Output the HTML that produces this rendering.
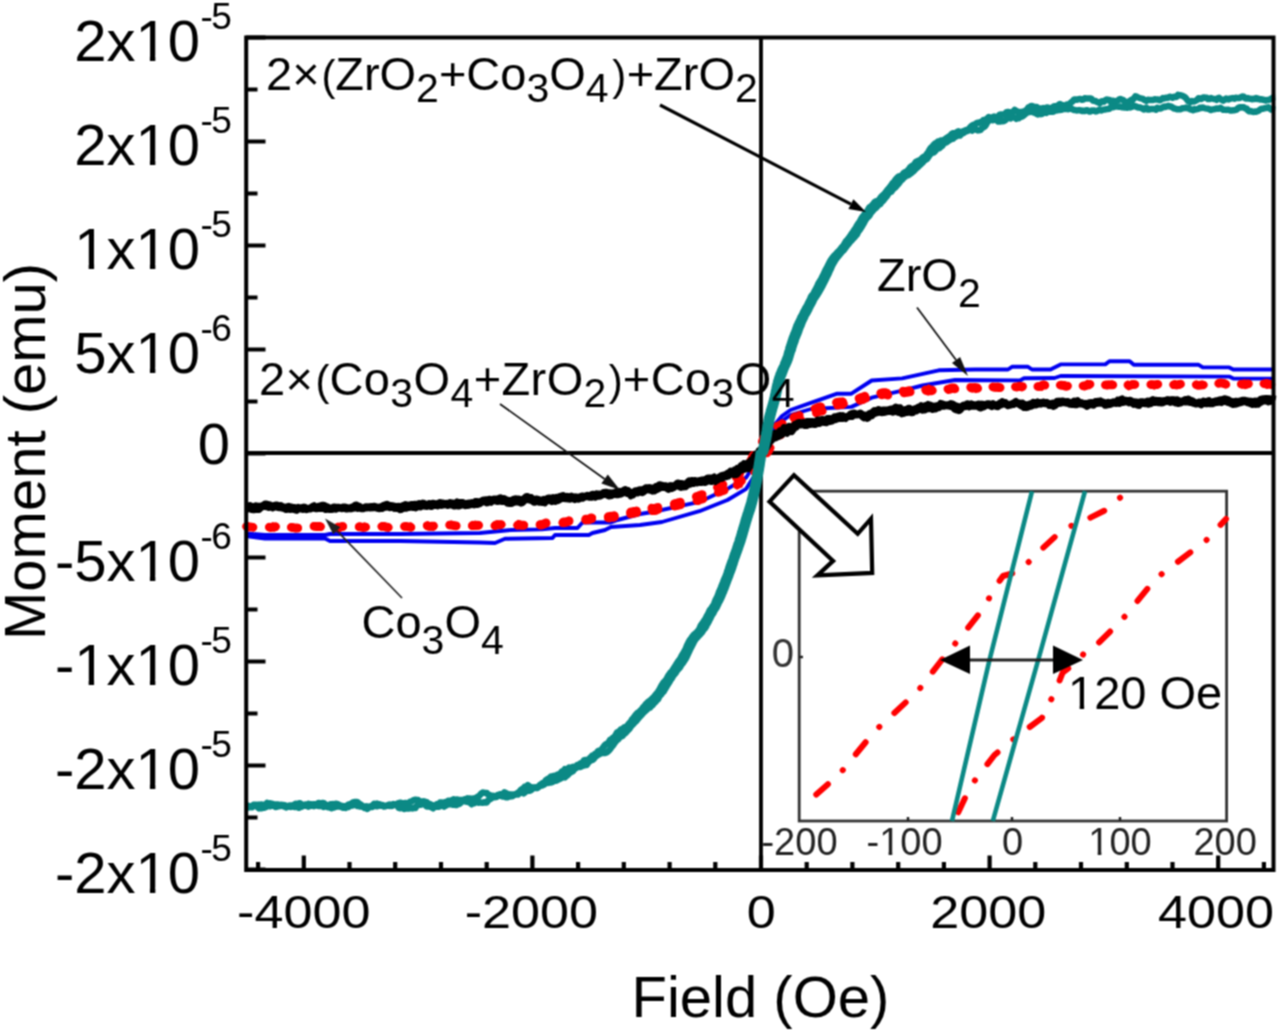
<!DOCTYPE html><html><head><meta charset="utf-8"><style>html,body{margin:0;padding:0;background:#fff;}svg{display:block;}text{font-family:"Liberation Sans",sans-serif;fill:#000;}</style></head><body>
<div id="wrap"><svg width="1280" height="1031" viewBox="0 0 1280 1031"><defs><filter id="bl" x="0" y="0" width="1280" height="1031" filterUnits="userSpaceOnUse" color-interpolation-filters="sRGB"><feConvolveMatrix order="3" kernelMatrix="1 2 1 2 4 2 1 2 1" divisor="16" edgeMode="duplicate"/></filter></defs><g filter="url(#bl)">
<rect width="1280" height="1031" fill="#fff"/>
<line x1="246" y1="453.0" x2="1274" y2="453.0" stroke="#000" stroke-width="3.8"/>
<line x1="761.0" y1="37" x2="761.0" y2="870" stroke="#000" stroke-width="3.8"/>
<path d="M246,37.5 H265.5 M246,89.5 H257.5 M246,141.5 H265.5 M246,193.5 H257.5 M246,245.5 H265.5 M246,297.5 H257.5 M246,349.5 H265.5 M246,401.5 H257.5 M246,453.5 H265.5 M246,505.5 H257.5 M246,557.5 H265.5 M246,609.5 H257.5 M246,661.5 H265.5 M246,713.5 H257.5 M246,765.5 H265.5 M246,817.5 H257.5 M246,869.5 H265.5 M258.1,870 V862 M303.8,870 V855.5 M349.5,870 V862 M395.2,870 V862 M441.0,870 V862 M486.7,870 V862 M532.4,870 V855.5 M578.1,870 V862 M623.8,870 V862 M669.6,870 V862 M715.3,870 V862 M761.0,870 V855.5 M806.7,870 V862 M852.4,870 V862 M898.2,870 V862 M943.9,870 V862 M989.6,870 V855.5 M1035.3,870 V862 M1081.0,870 V862 M1126.8,870 V862 M1172.5,870 V862 M1218.2,870 V855.5 M1263.9,870 V862" stroke="#000" stroke-width="4.2" fill="none"/>
<path d="M246,533.5 L265,535 L325,535 L330,534 L400,534 L440,533.5 L480,533 L511,530 L542,529.4 L555,528 L577.5,528 L582.5,522.5 L611,522.5 L617.5,520 L640,514 L652.5,512 L699.4,501.9 L727.5,488.8 L746.2,477.5 L756,462 L762,449 L768,436 L774.2,425.2 L782,416 L790.5,410 L810.8,402.8 L837.2,393.7 L851.4,393.7 L871.7,380.5 L902.2,378.4 L938.8,370.3 L975,369.5 L1008,369.5 L1012,366.8 L1028,366.8 L1032,369.5 L1050.5,369.5 L1060.6,364.4 L1105.3,364.4 L1109.4,361.3 L1129.7,361.3 L1133.8,364.8 L1198.7,364.8 L1202.8,367.4 L1229.2,367.4 L1233.3,369.5 L1274,369.5" stroke="#0000f0" stroke-width="3.9" fill="none" stroke-linejoin="round"/>
<path d="M246,536 L265,538.5 L325,538.5 L330,541 L400,541 L480,542.5 L495,543 L505,538.8 L552.5,538 L555,535 L588.8,535 L592.5,533 L605,530 L611,527 L640,525 L661.9,522 L699.4,511.2 L727.5,500 L746.2,488.8 L758,470 L766,450 L774.2,429.2 L782,421 L790.5,415 L810.8,409 L851.4,406.9 L871.7,397.7 L902.2,390.6 L922.5,385.5 L955,380 L1020,380.4 L1024,378.3 L1054.5,378 L1060.6,376 L1229.2,376.6 L1233.3,378.6 L1274,378.6" stroke="#0000f0" stroke-width="3.9" fill="none" stroke-linejoin="round"/>
<path d="M246.6,526.4 L247.8,526.5 L248.9,527 L250.1,527.1 L251.2,527 L252.4,527.1 L253.5,527.4 L254.7,527.5 L255.8,527.6 L256.9,527.2 L258.1,527.2 L259.2,527.1 L260.4,527.3 L261.5,527.3 L262.7,528 L263.8,528 L264.9,527.8 L266.1,527.4 L267.2,527.4 L268.4,526.8 L269.5,527.1 L270.7,527.5 L271.8,527.2 L272.9,526.8 L274.1,527.2 L275.2,526.9 L276.4,526 L277.5,526.5 L278.7,526.8 L279.8,526.6 L280.9,527.2 L282.1,527.8 L283.2,527.5 L284.4,527.4 L285.5,527.3 L286.7,526.6 L287.8,526.7 L288.9,526.7 L290.1,526.6 L291.2,527.2 L292.4,527.6 L293.5,527.7 L294.7,527.9 L295.8,528.1 L296.9,528.1 L298.1,527.9 L299.2,528.1 L300.4,527.8 L301.5,527.6 L302.7,527 L303.8,526.9 L304.9,526.6 L306.1,527.1 L307.2,527 L308.4,527.3 L309.5,527.3 L310.7,527 L311.8,526.4 L312.9,526.6 L314.1,526.2 L315.2,526.3 L316.4,526.5 L317.5,526.6 L318.7,526.3 L319.8,526.4 L320.9,526.8 L322.1,526.5 L323.2,527 L324.4,527.4 L325.5,527.6 L326.7,526.9 L327.8,527.4 L328.9,527.5 L330.1,527.1 L331.2,527.1 L332.4,527.6 L333.5,527.5 L334.7,527.5 L335.8,527.6 L336.9,527.8 L338.1,527.2 L339.2,527.6 L340.4,527 L341.5,526.6 L342.7,526.5 L343.8,526.7 L344.9,526.7 L346.1,526.8 L347.2,527.3 L348.4,527.4 L349.5,527.8 L350.7,527.3 L351.8,527.7 L352.9,527.8 L354.1,527.6 L355.2,527.2 L356.4,527.2 L357.5,526.8 L358.7,526.9 L359.8,526.7 L360.9,526.9 L362.1,527.1 L363.2,527.3 L364.4,526.9 L365.5,527.1 L366.7,526.9 L367.8,526.9 L369,527 L370.1,527.4 L371.2,527.3 L372.4,527.2 L373.5,526.7 L374.7,526.8 L375.8,526.6 L377,526.6 L378.1,526.8 L379.2,527.3 L380.4,526.5 L381.5,526.5 L382.7,526.2 L383.8,526.2 L385,526.6 L386.1,527.1 L387.2,527.1 L388.4,527.4 L389.5,527.2 L390.7,526.8 L391.8,527.2 L393,527 L394.1,527.4 L395.2,527.1 L396.4,527 L397.5,526.9 L398.7,527.3 L399.8,526.7 L401,526.8 L402.1,526.6 L403.2,526.3 L404.4,526.4 L405.5,526.3 L406.7,526.5 L407.8,526.8 L409,526.9 L410.1,526.7 L411.2,527.4 L412.4,527.3 L413.5,527.4 L414.7,527.4 L415.8,527.7 L417,526.9 L418.1,527 L419.2,526.8 L420.4,526.5 L421.5,525.9 L422.7,525.9 L423.8,525.5 L425,525.4 L426.1,525.5 L427.2,525.4 L428.4,526.1 L429.5,526.3 L430.7,526.3 L431.8,526 L433,526.2 L434.1,525.6 L435.2,525.4 L436.4,525.4 L437.5,525.5 L438.7,525.3 L439.8,525.5 L441,525.4 L442.1,525.4 L443.2,525.9 L444.4,526.3 L445.5,526.3 L446.7,526.1 L447.8,525.7 L449,524.9 L450.1,524.9 L451.2,524.8 L452.4,525.1 L453.5,525.3 L454.7,525.7 L455.8,525.8 L457,525.8 L458.1,525.7 L459.2,525.6 L460.4,525.8 L461.5,525.2 L462.7,525.1 L463.8,524.8 L465,524.7 L466.1,524.6 L467.2,525.4 L468.4,525.4 L469.5,525.9 L470.7,526.3 L471.8,525.9 L473,525.2 L474.1,525.4 L475.2,525 L476.4,525.3 L477.5,525.1 L478.7,525.3 L479.8,525.4 L481,525.4 L482.1,525 L483.3,525.6 L484.4,525.5 L485.5,525.5 L486.7,525.8 L487.8,525.2 L489,525.4 L490.1,525.8 L491.3,525.9 L492.4,526 L493.5,526.1 L494.7,525.7 L495.8,525 L497,524.6 L498.1,524.6 L499.3,524.7 L500.4,524.6 L501.5,524.4 L502.7,524.4 L503.8,524.2 L505,524.2 L506.1,524 L507.3,524.9 L508.4,524.6 L509.5,524.3 L510.7,524.3 L511.8,524.7 L513,524.7 L514.1,525 L515.3,525.1 L516.4,525.1 L517.5,525.1 L518.7,524.3 L519.8,524.6 L521,525 L522.1,525.1 L523.3,525 L524.4,525.3 L525.5,525.3 L526.7,524.7 L527.8,524.9 L529,524.6 L530.1,524.2 L531.3,523.8 L532.4,524 L533.5,523.4 L534.7,523.1 L535.8,523 L537,523.2 L538.1,523.7 L539.3,524 L540.4,524.5 L541.5,524.6 L542.7,524.2 L543.8,523.7 L545,523.2 L546.1,522.7 L547.3,522.7 L548.4,522.6 L549.5,522.2 L550.7,522.5 L551.8,522.6 L553,522.7 L554.1,522.7 L555.3,522.8 L556.4,522.6 L557.5,522.5 L558.7,522 L559.8,521.8 L561,522 L562.1,522 L563.3,522.2 L564.4,521.8 L565.5,521.7 L566.7,521.3 L567.8,521.1 L569,520.6 L570.1,520.8 L571.3,520.9 L572.4,520.9 L573.5,520.5 L574.7,520.8 L575.8,521 L577,520.6 L578.1,520.6 L579.3,520.6 L580.4,520.4 L581.5,520 L582.7,519.8 L583.8,519.4 L585,519.3 L586.1,518.9 L587.3,518.9 L588.4,518.9 L589.5,518.7 L590.7,517.9 L591.8,517.8 L593,517.1 L594.1,517 L595.3,517.3 L596.4,518 L597.6,517.7 L598.7,518 L599.8,517.7 L601,517.2 L602.1,516.8 L603.3,516.5 L604.4,516.7 L605.6,516.5 L606.7,516.7 L607.8,516.6 L609,516.7 L610.1,516.2 L611.3,516.1 L612.4,515.9 L613.6,515.8 L614.7,515.5 L615.8,515.1 L617,515.2 L618.1,514.8 L619.3,514.4 L620.4,514.7 L621.6,515 L622.7,514.5 L623.8,514.3 L625,514.7 L626.1,514.2 L627.3,513.9 L628.4,513.5 L629.6,513.1 L630.7,512 L631.8,511.8 L633,511.5 L634.1,511.3 L635.3,511.1 L636.4,510.9 L637.6,510.5 L638.7,509.8 L639.8,509.8 L641,510.1 L642.1,510.8 L643.3,510.9 L644.4,510.8 L645.6,510.2 L646.7,508.9 L647.8,507.9 L649,507.4 L650.1,507.5 L651.3,507.7 L652.4,508.3 L653.6,508.3 L654.7,508.3 L655.8,508.1 L657,507.5 L658.1,507.1 L659.3,506.5 L660.4,506.5 L661.6,506.2 L662.7,506.4 L663.8,506 L665,506.1 L666.1,505.5 L667.3,505 L668.4,504.5 L669.6,504.7 L670.7,504.3 L671.8,504.3 L673,504.1 L674.1,503.8 L675.3,503.4 L676.4,503.1 L677.6,502.8 L678.7,502.4 L679.8,502.2 L681,501.8 L682.1,501.3 L683.3,501 L684.4,500.5 L685.6,500.2 L686.7,500 L687.8,499.6 L689,498.8 L690.1,498.5 L691.3,497.8 L692.4,497 L693.6,497.1 L694.7,496.9 L695.8,496.7 L697,496.3 L698.1,496.2 L699.3,495.4 L700.4,495 L701.6,494.6 L702.7,494.3 L703.9,493.6 L705,493.1 L706.1,492.6 L707.3,492.1 L708.4,491.5 L709.6,490.9 L710.7,490.7 L711.9,490.7 L713,490 L714.1,489.6 L715.3,489.3 L716.4,488.1 L717.6,487 L718.7,486.3 L719.9,486 L721,485.3 L722.1,485.1 L723.3,484.5 L724.4,484.1 L725.6,483.1 L726.7,482.6 L727.2,482.2 L727.6,482 L727.9,482 L728.1,482.5 L728.5,482.4 L729,482.5 L729.5,482.6 L729.9,482.4 L730.1,482.2 L730.4,482.1 L730.8,481.8 L731.3,481.3 L731.7,480.8 L732.2,480.2 L732.4,479.8 L732.7,479.5 L733.1,478.6 L733.6,478.1 L734,477.3 L734.5,476.9 L734.7,476.9 L734.9,476.8 L735.4,476.8 L735.9,477.1 L736.3,476.7 L736.8,476.7 L737,477.3 L737.2,476.7 L737.7,476.3 L738.1,476 L738.6,475.3 L739.1,474.7 L739.3,474.6 L739.5,474 L740,473.2 L740.4,472.5 L740.9,471.8 L741.3,471.2 L741.6,470.9 L741.8,471 L742.3,470.6 L742.7,470.3 L743.2,469.7 L743.6,469.2 L743.9,468.7 L744.1,468.5 L744.5,467.7 L745,467.8 L745.5,467.4 L745.9,466.9 L746.1,466.6 L746.4,466.6 L746.8,465.7 L747.3,465.3 L747.7,464.8 L748.2,464.1 L748.4,463.6 L748.7,463.5 L749.1,462.8 L749.6,462.2 L750,461.6 L750.5,461 L750.7,460.6 L750.9,460.3 L751.4,459.3 L751.9,458 L752.3,457.3 L752.8,456.5 L753,455.6 L753.2,455.2 L753.7,454.6 L754.1,454 L754.6,453.3 L755.1,452.4 L755.3,452.1 L755.5,451.8 L756,451 L756.4,449.9 L756.9,448.9 L757.3,448 L757.6,447.7 L757.8,446.8 L758.3,445.8 L758.7,445.6 L759.2,445.3 L759.6,444.2 L759.9,444.2 L760.1,444.2 L760.5,444 L761,443 L761.5,442.7 L761.9,442.1 L762.1,442 L762.4,441 L762.8,440.4 L763.3,439.7 L763.7,438.5 L764.2,438.3 L764.4,438 L764.7,437.4 L765.1,437.1 L765.6,436.6 L766,435.3 L766.5,434.8 L766.7,434.6 L766.9,434.3 L767.4,434.4 L767.9,434.1 L768.3,433.9 L768.8,433.7 L769,433.2 L769.2,432.7 L769.7,432.2 L770.1,431.9 L770.6,431.4 L771.1,431.3 L771.3,430.7 L771.5,430.7 L772,429.9 L772.4,429.6 L772.9,429.2 L773.3,428.9 L773.6,428.9 L773.8,429.1 L774.3,428.4 L774.7,428.3 L775.2,428.1 L775.6,427.5 L775.9,427.2 L776.1,427 L776.5,426.3 L777,426 L777.5,426.1 L777.9,426.2 L778.1,426.1 L778.4,426.4 L778.8,426.2 L779.3,425.7 L779.7,425.2 L780.2,425.1 L780.4,425.2 L780.7,425.1 L781.1,424.5 L781.6,424.3 L782,423.9 L782.5,423.1 L782.7,422.2 L782.9,422.6 L783.4,422.3 L783.9,422.3 L784.3,422.4 L784.8,423.2 L785,422.9 L785.2,422.8 L785.7,422.2 L786.1,421.7 L786.6,421.4 L787.1,421.2 L787.3,420.6 L787.5,420.8 L788,420.6 L788.4,419.9 L788.9,419.7 L789.3,419.7 L789.6,419.1 L789.8,418.8 L790.3,419.2 L790.7,418.5 L791.2,418.4 L791.6,418.7 L791.9,419 L792.1,418.2 L792.5,418.2 L793,418 L793.5,417.8 L793.9,417.3 L794.1,417.2 L794.4,417.4 L794.8,417.4 L795.3,417.1 L796.4,416.5 L797.6,416.3 L798.7,415.6 L799.9,415 L801,414.1 L802.1,413.7 L803.3,413.1 L804.4,412.4 L805.6,411.7 L806.7,411.6 L807.9,411 L809,410.7 L810.1,410.1 L811.3,409.6 L812.4,409.3 L813.6,409 L814.7,408.7 L815.9,408.4 L817,407.6 L818.1,407.2 L819.3,406.8 L820.4,406.6 L821.6,406.7 L822.7,406.4 L823.9,406.2 L825,405.6 L826.2,404.4 L827.3,404.5 L828.4,404.5 L829.6,404.1 L830.7,404.2 L831.9,404.6 L833,403.8 L834.2,403.8 L835.3,403.1 L836.4,402.4 L837.6,402 L838.7,402.1 L839.9,401.7 L841,401.7 L842.2,401.8 L843.3,401.1 L844.4,400.9 L845.6,400.7 L846.7,400.5 L847.9,400.3 L849,400.5 L850.2,400 L851.3,399.8 L852.4,399.2 L853.6,399 L854.7,399.1 L855.9,398.6 L857,398.2 L858.2,398.4 L859.3,398.3 L860.4,397.7 L861.6,397.2 L862.7,397.2 L863.9,396.5 L865,395.9 L866.2,395.6 L867.3,395.7 L868.4,395.6 L869.6,396.4 L870.7,396.5 L871.9,396.4 L873,396 L874.2,395.5 L875.3,394.3 L876.4,393.9 L877.6,393.3 L878.7,393.2 L879.9,393.2 L881,393 L882.2,392.7 L883.3,392.5 L884.4,392.6 L885.6,392.5 L886.7,392.9 L887.9,393.3 L889,393.4 L890.2,393.3 L891.3,392.8 L892.4,393 L893.6,392.9 L894.7,392.8 L895.9,392.3 L897,392.6 L898.2,391.5 L899.3,391 L900.4,391.1 L901.6,391.2 L902.7,390.9 L903.9,391.5 L905,391.3 L906.2,391.1 L907.3,390.9 L908.4,390.7 L909.6,390.5 L910.7,390.4 L911.9,390.7 L913,390.6 L914.2,391.1 L915.3,390.7 L916.4,391 L917.6,390.2 L918.7,389.9 L919.9,389.5 L921,389.8 L922.2,389.3 L923.3,389.8 L924.4,389.8 L925.6,389.7 L926.7,389.6 L927.9,390 L929,389.2 L930.2,389.7 L931.3,389.8 L932.5,389.5 L933.6,389.1 L934.7,389.1 L935.9,388.3 L937,388.3 L938.2,388.3 L939.3,388.2 L940.5,388.4 L941.6,389 L942.7,388.8 L943.9,388.7 L945,389.2 L946.2,389.4 L947.3,389 L948.5,388.9 L949.6,388.6 L950.7,388 L951.9,387.8 L953,387.7 L954.2,387.8 L955.3,388.3 L956.5,388.5 L957.6,388.7 L958.7,388.4 L959.9,387.8 L961,387.5 L962.2,387.2 L963.3,387 L964.5,387.1 L965.6,387.3 L966.7,387.1 L967.9,387.2 L969,387.3 L970.2,387.2 L971.3,387.5 L972.5,387.7 L973.6,387.4 L974.7,387.3 L975.9,387.8 L977,387.5 L978.2,387.8 L979.3,388.3 L980.5,388.6 L981.6,387.9 L982.7,388.5 L983.9,388.2 L985,387.8 L986.2,387.3 L987.3,387.6 L988.5,387.1 L989.6,387 L990.7,387.4 L991.9,387.2 L993,386.8 L994.2,386.9 L995.3,387.1 L996.5,387 L997.6,386.9 L998.7,387.4 L999.9,387.3 L1001,387.5 L1002.2,386.9 L1003.3,387.2 L1004.5,386.9 L1005.6,386.4 L1006.7,385.8 L1007.9,386.3 L1009,386.1 L1010.2,386 L1011.3,386.5 L1012.5,386.9 L1013.6,386.8 L1014.7,386.7 L1015.9,386.9 L1017,386.9 L1018.2,386.5 L1019.3,386.1 L1020.5,386.4 L1021.6,386.7 L1022.7,386.2 L1023.9,385.8 L1025,385.6 L1026.2,385.1 L1027.3,384.7 L1028.5,385.1 L1029.6,385.7 L1030.7,385.8 L1031.9,386 L1033,385.8 L1034.2,385.7 L1035.3,385.5 L1036.5,386.3 L1037.6,386.4 L1038.7,386.4 L1039.9,386.2 L1041,386.2 L1042.2,385.2 L1043.3,384.8 L1044.5,384.8 L1045.6,385.3 L1046.8,385.2 L1047.9,385.4 L1049,385.3 L1050.2,385.1 L1051.3,384.9 L1052.5,384.9 L1053.6,385.3 L1054.8,385.5 L1055.9,386 L1057,386 L1058.2,386.1 L1059.3,385.3 L1060.5,385.1 L1061.6,385.1 L1062.8,385.3 L1063.9,385.3 L1065,385.9 L1066.2,386.1 L1067.3,385.8 L1068.5,385.3 L1069.6,385.5 L1070.8,385.4 L1071.9,385.4 L1073,385.4 L1074.2,385.7 L1075.3,385.5 L1076.5,385.2 L1077.6,385.6 L1078.8,385.7 L1079.9,385.6 L1081,385.8 L1082.2,386.2 L1083.3,385.8 L1084.5,385.9 L1085.6,385.6 L1086.8,385.1 L1087.9,384.3 L1089,384.6 L1090.2,384 L1091.3,384.4 L1092.5,384.3 L1093.6,384.6 L1094.8,384.3 L1095.9,384.8 L1097,384.7 L1098.2,385.3 L1099.3,385.6 L1100.5,385.8 L1101.6,385.6 L1102.8,385.6 L1103.9,385.2 L1105,385 L1106.2,384.8 L1107.3,384.9 L1108.5,384.8 L1109.6,384.8 L1110.8,384.8 L1111.9,384.6 L1113,384.8 L1114.2,384.4 L1115.3,384.1 L1116.5,384.6 L1117.6,384.1 L1118.8,383.8 L1119.9,384.3 L1121,384.1 L1122.2,384.3 L1123.3,384.4 L1124.5,384.8 L1125.6,385 L1126.8,385.6 L1127.9,385 L1129,385.6 L1130.2,385.1 L1131.3,384.9 L1132.5,384.4 L1133.6,384.4 L1134.8,384.6 L1135.9,384.5 L1137,384.2 L1138.2,384.5 L1139.3,384.3 L1140.5,384.3 L1141.6,384.6 L1142.8,384.4 L1143.9,384.3 L1145,384.4 L1146.2,384 L1147.3,383.9 L1148.5,384.1 L1149.6,384.3 L1150.8,384.4 L1151.9,384.7 L1153,384.7 L1154.2,385 L1155.3,384.7 L1156.5,384.7 L1157.6,384.2 L1158.8,384.4 L1159.9,384.4 L1161,385 L1162.2,385.4 L1163.3,385.7 L1164.5,385.5 L1165.6,385.4 L1166.8,384.9 L1167.9,384.9 L1169.1,385.1 L1170.2,384.9 L1171.3,384.7 L1172.5,385 L1173.6,384.7 L1174.8,384.5 L1175.9,384.9 L1177.1,385 L1178.2,384.6 L1179.3,384.4 L1180.5,384 L1181.6,383.9 L1182.8,383.8 L1183.9,383.7 L1185.1,383.6 L1186.2,384.2 L1187.3,384 L1188.5,384.3 L1189.6,384 L1190.8,384.2 L1191.9,383.7 L1193.1,383.7 L1194.2,383.8 L1195.3,384.2 L1196.5,384.7 L1197.6,385.1 L1198.8,385.2 L1199.9,385.1 L1201.1,385.1 L1202.2,384.8 L1203.3,385 L1204.5,384.5 L1205.6,384.7 L1206.8,384.9 L1207.9,384.9 L1209.1,384.7 L1210.2,384.8 L1211.3,384.2 L1212.5,384.5 L1213.6,384.4 L1214.8,383.9 L1215.9,384.3 L1217.1,384.5 L1218.2,383.6 L1219.3,383.1 L1220.5,383 L1221.6,383 L1222.8,383.1 L1223.9,383.4 L1225.1,384 L1226.2,384.5 L1227.3,384 L1228.5,383.9 L1229.6,383.8 L1230.8,383.4 L1231.9,383.2 L1233.1,383.6 L1234.2,383.6 L1235.3,383.5 L1236.5,383.6 L1237.6,384.2 L1238.8,384 L1239.9,383.7 L1241.1,384.1 L1242.2,384.3 L1243.3,384 L1244.5,383.9 L1245.6,384.6 L1246.8,384.3 L1247.9,383.9 L1249.1,383.7 L1250.2,383.9 L1251.3,383.8 L1252.5,384.2 L1253.6,384.4 L1254.8,384.8 L1255.9,384.8 L1257.1,384.8 L1258.2,384.4 L1259.3,384 L1260.5,384 L1261.6,383.6 L1262.8,383.4 L1263.9,383.7 L1265.1,383.9 L1266.2,383.6 L1267.3,384.3 L1268.5,383.8 L1269.6,384 L1270.8,384.6 L1271.9,384.7 L1273.1,384.4 L1274.2,385.1 L1275.3,385.4" stroke="#ff0000" stroke-width="8.5" fill="none" stroke-dasharray="6.5 17" stroke-linecap="round"/>
<path d="M246.6,526.4 L247.8,526.5 L248.9,527 L250.1,527.1 L251.2,527 L252.4,527.1 L253.5,527.4 L254.7,527.5 L255.8,527.6 L256.9,527.2 L258.1,527.2 L259.2,527.1 L260.4,527.3 L261.5,527.3 L262.7,528 L263.8,528.1 L264.9,527.8 L266.1,527.4 L267.2,527.4 L268.4,526.8 L269.5,527.2 L270.7,527.5 L271.8,527.2 L272.9,526.8 L274.1,527.3 L275.2,526.9 L276.4,526 L277.5,526.5 L278.7,526.8 L279.8,526.6 L280.9,527.3 L282.1,527.8 L283.2,527.5 L284.4,527.5 L285.5,527.3 L286.7,526.7 L287.8,526.7 L288.9,526.8 L290.1,526.6 L291.2,527.3 L292.4,527.6 L293.5,527.7 L294.7,528 L295.8,528.2 L296.9,528.1 L298.1,527.9 L299.2,528.2 L300.4,527.8 L301.5,527.6 L302.7,527 L303.8,526.9 L304.9,526.6 L306.1,527.2 L307.2,527.1 L308.4,527.4 L309.5,527.4 L310.7,527.1 L311.8,526.5 L312.9,526.6 L314.1,526.2 L315.2,526.3 L316.4,526.5 L317.5,526.6 L318.7,526.4 L319.8,526.5 L320.9,526.9 L322.1,526.5 L323.2,527 L324.4,527.4 L325.5,527.6 L326.7,526.9 L327.8,527.5 L328.9,527.5 L330.1,527.2 L331.2,527.2 L332.4,527.7 L333.5,527.5 L334.7,527.6 L335.8,527.6 L336.9,527.8 L338.1,527.3 L339.2,527.7 L340.4,527.1 L341.5,526.7 L342.7,526.5 L343.8,526.8 L344.9,526.7 L346.1,526.8 L347.2,527.3 L348.4,527.5 L349.5,527.9 L350.7,527.4 L351.8,527.7 L352.9,527.8 L354.1,527.6 L355.2,527.3 L356.4,527.3 L357.5,526.8 L358.7,527 L359.8,526.7 L360.9,527 L362.1,527.2 L363.2,527.4 L364.4,526.9 L365.5,527.2 L366.7,527 L367.8,527 L369,527 L370.1,527.4 L371.2,527.4 L372.4,527.3 L373.5,526.8 L374.7,526.9 L375.8,526.7 L377,526.7 L378.1,526.9 L379.2,527.4 L380.4,526.6 L381.5,526.6 L382.7,526.3 L383.8,526.3 L385,526.7 L386.1,527.2 L387.2,527.2 L388.4,527.5 L389.5,527.3 L390.7,526.9 L391.8,527.3 L393,527 L394.1,527.4 L395.2,527.1 L396.4,527.1 L397.5,527 L398.7,527.4 L399.8,526.8 L401,526.9 L402.1,526.7 L403.2,526.4 L404.4,526.5 L405.5,526.4 L406.7,526.7 L407.8,526.9 L409,527 L410.1,526.9 L411.2,527.5 L412.4,527.5 L413.5,527.5 L414.7,527.5 L415.8,527.8 L417,527 L418.1,527.2 L419.2,526.9 L420.4,526.7 L421.5,526.1 L422.7,526.1 L423.8,525.7 L425,525.6 L426.1,525.7 L427.2,525.6 L428.4,526.3 L429.5,526.5 L430.7,526.5 L431.8,526.2 L433,526.4 L434.1,525.8 L435.2,525.6 L436.4,525.6 L437.5,525.7 L438.7,525.6 L439.8,525.7 L441,525.6 L442.1,525.7 L443.2,526.1 L444.4,526.5 L445.5,526.5 L446.7,526.3 L447.8,526 L449,525.1 L450.1,525.1 L451.2,525 L452.4,525.4 L453.5,525.5 L454.7,525.9 L455.8,526 L457,526 L458.1,525.9 L459.2,525.9 L460.4,526 L461.5,525.5 L462.7,525.3 L463.8,525.1 L465,524.9 L466.1,524.8 L467.2,525.6 L468.4,525.6 L469.5,526.1 L470.7,526.5 L471.8,526.1 L473,525.4 L474.1,525.6 L475.2,525.2 L476.4,525.6 L477.5,525.4 L478.7,525.5 L479.8,525.6 L481,525.6 L482.1,525.2 L483.3,525.8 L484.4,525.7 L485.5,525.7 L486.7,526 L487.8,525.5 L489,525.6 L490.1,526.1 L491.3,526.2 L492.4,526.2 L493.5,526.3 L494.7,525.9 L495.8,525.2 L497,524.8 L498.1,524.8 L499.3,524.9 L500.4,524.9 L501.5,524.6 L502.7,524.7 L503.8,524.5 L505,524.5 L506.1,524.3 L507.3,525.2 L508.4,524.9 L509.5,524.6 L510.7,524.6 L511.8,525 L513,525 L514.1,525.3 L515.3,525.4 L516.4,525.4 L517.5,525.4 L518.7,524.7 L519.8,524.9 L521,525.4 L522.1,525.4 L523.3,525.3 L524.4,525.7 L525.5,525.7 L526.7,525.1 L527.8,525.3 L529,525 L530.1,524.6 L531.3,524.3 L532.4,524.4 L533.5,523.9 L534.7,523.6 L535.8,523.5 L537,523.8 L538.1,524.2 L539.3,524.6 L540.4,525.2 L541.5,525.2 L542.7,524.8 L543.8,524.4 L545,523.9 L546.1,523.4 L547.3,523.5 L548.4,523.4 L549.5,523 L550.7,523.3 L551.8,523.4 L553,523.5 L554.1,523.5 L555.3,523.6 L556.4,523.5 L557.5,523.4 L558.7,522.9 L559.8,522.7 L561,522.8 L562.1,522.8 L563.3,523 L564.4,522.7 L565.5,522.6 L566.7,522.2 L567.8,522 L569,521.5 L570.1,521.6 L571.3,521.8 L572.4,521.8 L573.5,521.4 L574.7,521.7 L575.8,521.9 L577,521.5 L578.1,521.5 L579.3,521.5 L580.4,521.4 L581.5,521 L582.7,520.8 L583.8,520.4 L585,520.3 L586.1,520 L587.3,519.9 L588.4,520 L589.5,519.8 L590.7,519 L591.8,518.9 L593,518.3 L594.1,518.2 L595.3,518.5 L596.4,519.2 L597.6,519 L598.7,519.2 L599.8,519 L601,518.5 L602.1,518.2 L603.3,517.9 L604.4,518.1 L605.6,517.9 L606.7,518.1 L607.8,518 L609,518.1 L610.1,517.6 L611.3,517.6 L612.4,517.4 L613.6,517.4 L614.7,517 L615.8,516.7 L617,516.8 L618.1,516.4 L619.3,516.1 L620.4,516.4 L621.6,516.7 L622.7,516.2 L623.8,516 L625,516.4 L626.1,516 L627.3,515.7 L628.4,515.3 L629.6,514.9 L630.7,513.9 L631.8,513.7 L633,513.5 L634.1,513.2 L635.3,513.1 L636.4,512.9 L637.6,512.5 L638.7,511.9 L639.8,511.9 L641,512.2 L642.1,513 L643.3,513 L644.4,513 L645.6,512.4 L646.7,511.1 L647.8,510.2 L649,509.7 L650.1,509.9 L651.3,510 L652.4,510.7 L653.6,510.7 L654.7,510.7 L655.8,510.6 L657,510 L658.1,509.5 L659.3,509 L660.4,509 L661.6,508.7 L662.7,508.9 L663.8,508.5 L665,508.6 L666.1,508 L667.3,507.5 L668.4,507 L669.6,507.2 L670.7,506.8 L671.8,506.9 L673,506.7 L674.1,506.4 L675.3,506 L676.4,505.8 L677.6,505.6 L678.7,505.2 L679.8,505.1 L681,504.8 L682.1,504.3 L683.3,504.1 L684.4,503.7 L685.6,503.5 L686.7,503.4 L687.8,503.1 L689,502.4 L690.1,502.3 L691.3,501.7 L692.4,501 L693.6,501.2 L694.7,501.1 L695.8,500.9 L697,500.7 L698.1,500.7 L699.3,500 L700.4,499.6 L701.6,499.3 L702.7,499 L703.9,498.4 L705,498 L706.1,497.6 L707.3,497.1 L708.4,496.6 L709.6,496.1 L710.7,496 L711.9,496.1 L713,495.5 L714.1,495.2 L715.3,495 L716.4,493.8 L717.6,492.8 L718.7,492.3 L719.9,492 L721,491.3 L722.1,491.2 L723.3,490.6 L724.4,490.3 L725.6,489.3 L726.7,488.8 L727.2,488.4 L727.6,488.2 L727.9,488.2 L728.1,488.7 L728.5,488.6 L729,488.8 L729.5,488.9 L729.9,488.7 L730.1,488.5 L730.4,488.5 L730.8,488.2 L731.3,487.7 L731.7,487.3 L732.2,486.8 L732.4,486.5 L732.7,486.2 L733.1,485.4 L733.6,485 L734,484.3 L734.5,484 L734.7,484.1 L734.9,484.1 L735.4,484.2 L735.9,484.6 L736.3,484.4 L736.8,484.6 L737,485.3 L737.2,484.7 L737.7,484.5 L738.1,484.4 L738.6,483.9 L739.1,483.4 L739.3,483.4 L739.5,482.9 L740,482.4 L740.4,481.9 L740.9,481.4 L741.3,481 L741.6,480.8 L741.8,481 L742.3,480.9 L742.7,480.7 L743.2,480.3 L743.6,480.1 L743.9,479.7 L744.1,479.6 L744.5,479.1 L745,479.4 L745.5,479.3 L745.9,479.1 L746.1,478.9 L746.4,479 L746.8,478.4 L747.3,478.3 L747.7,478 L748.2,477.7 L748.4,477.4 L748.7,477.4 L749.1,477 L749.6,476.7 L750,476.4 L750.5,476.2 L750.7,475.9 L750.9,475.7 L751.4,475.1 L751.9,474.1 L752.3,473.8 L752.8,473.3 L753,472.6 L753.2,472.3 L753.7,472.1 L754.1,471.8 L754.6,471.4 L755.1,470.9 L755.3,470.8 L755.5,470.6 L756,470.1 L756.4,469.2 L756.9,468.5 L757.3,467.9 L757.6,467.6 L757.8,466.8 L758.3,466 L758.7,466 L759.2,465.7 L759.6,464.8 L759.9,464.8 L760.1,464.8 L760.5,464.6 L761,463.7 L761.5,463.4 L761.9,462.7 L762.1,462.6 L762.4,461.6 L762.8,460.9 L763.3,460.1 L763.7,458.7 L764.2,458.3 L764.4,458 L764.7,457.3 L765.1,456.7 L765.6,456 L766,454.4 L766.5,453.6 L766.7,453.2 L766.9,452.7 L767.4,452.5 L767.9,451.9 L768.3,451.3 L768.8,450.8 L769,450.1 L769.2,449.5 L769.7,448.7 L770.1,448 L770.6,447.2 L771.1,446.7 L771.3,446 L771.5,445.9 L772,444.7 L772.4,444.1 L772.9,443.4 L773.3,442.8 L773.6,442.6 L773.8,442.6 L774.3,441.7 L774.7,441.3 L775.2,440.8 L775.6,439.9 L775.9,439.5 L776.1,439.1 L776.5,438.2 L777,437.7 L777.5,437.5 L777.9,437.3 L778.1,437.1 L778.4,437.3 L778.8,436.9 L779.3,436.1 L779.7,435.5 L780.2,435.1 L780.4,435.1 L780.7,434.9 L781.1,434.1 L781.6,433.7 L782,433.1 L782.5,432.1 L782.7,431.1 L782.9,431.4 L783.4,430.9 L783.9,430.7 L784.3,430.6 L784.8,431.3 L785,430.8 L785.2,430.7 L785.7,429.9 L786.1,429.3 L786.6,428.8 L787.1,428.5 L787.3,427.8 L787.5,427.9 L788,427.6 L788.4,426.8 L788.9,426.5 L789.3,426.4 L789.6,425.8 L789.8,425.4 L790.3,425.7 L790.7,425 L791.2,424.8 L791.6,425.1 L791.9,425.3 L792.1,424.5 L792.5,424.5 L793,424.2 L793.5,424 L793.9,423.5 L794.1,423.4 L794.4,423.6 L794.8,423.5 L795.3,423.2 L796.4,422.6 L797.6,422.5 L798.7,421.7 L799.9,421.1 L801,420.2 L802.1,419.8 L803.3,419.1 L804.4,418.2 L805.6,417.5 L806.7,417.3 L807.9,416.6 L809,416.1 L810.1,415.5 L811.3,414.9 L812.4,414.5 L813.6,414.1 L814.7,413.8 L815.9,413.3 L817,412.5 L818.1,412 L819.3,411.6 L820.4,411.3 L821.6,411.3 L822.7,411 L823.9,410.7 L825,409.9 L826.2,408.7 L827.3,408.7 L828.4,408.6 L829.6,408.1 L830.7,408 L831.9,408.4 L833,407.5 L834.2,407.3 L835.3,406.5 L836.4,405.7 L837.6,405.3 L838.7,405.2 L839.9,404.7 L841,404.7 L842.2,404.7 L843.3,403.9 L844.4,403.7 L845.6,403.4 L846.7,403.2 L847.9,403 L849,403.1 L850.2,402.6 L851.3,402.4 L852.4,401.8 L853.6,401.6 L854.7,401.6 L855.9,401.1 L857,400.7 L858.2,400.9 L859.3,400.8 L860.4,400.2 L861.6,399.7 L862.7,399.7 L863.9,399 L865,398.3 L866.2,398.1 L867.3,398.1 L868.4,398 L869.6,398.7 L870.7,398.9 L871.9,398.7 L873,398.3 L874.2,397.8 L875.3,396.6 L876.4,396.1 L877.6,395.5 L878.7,395.4 L879.9,395.3 L881,395.2 L882.2,394.8 L883.3,394.6 L884.4,394.6 L885.6,394.5 L886.7,394.8 L887.9,395.3 L889,395.3 L890.2,395.2 L891.3,394.7 L892.4,394.9 L893.6,394.8 L894.7,394.6 L895.9,394.1 L897,394.4 L898.2,393.3 L899.3,392.7 L900.4,392.8 L901.6,392.9 L902.7,392.6 L903.9,393.1 L905,392.9 L906.2,392.7 L907.3,392.4 L908.4,392.3 L909.6,392 L910.7,391.9 L911.9,392.2 L913,392 L914.2,392.6 L915.3,392.1 L916.4,392.4 L917.6,391.6 L918.7,391.3 L919.9,390.8 L921,391.1 L922.2,390.6 L923.3,391 L924.4,391.1 L925.6,391 L926.7,390.8 L927.9,391.1 L929,390.4 L930.2,390.9 L931.3,390.9 L932.5,390.6 L933.6,390.2 L934.7,390.1 L935.9,389.4 L937,389.3 L938.2,389.3 L939.3,389.2 L940.5,389.4 L941.6,390 L942.7,389.7 L943.9,389.6 L945,390.1 L946.2,390.3 L947.3,389.9 L948.5,389.8 L949.6,389.5 L950.7,388.9 L951.9,388.6 L953,388.5 L954.2,388.7 L955.3,389.1 L956.5,389.4 L957.6,389.5 L958.7,389.3 L959.9,388.7 L961,388.4 L962.2,388.1 L963.3,387.8 L964.5,388 L965.6,388.1 L966.7,387.9 L967.9,388.1 L969,388.2 L970.2,388 L971.3,388.3 L972.5,388.4 L973.6,388.1 L974.7,388.1 L975.9,388.6 L977,388.2 L978.2,388.5 L979.3,388.9 L980.5,389.2 L981.6,388.5 L982.7,389.1 L983.9,388.8 L985,388.3 L986.2,387.9 L987.3,388.1 L988.5,387.6 L989.6,387.5 L990.7,387.8 L991.9,387.6 L993,387.2 L994.2,387.3 L995.3,387.5 L996.5,387.4 L997.6,387.3 L998.7,387.7 L999.9,387.6 L1001,387.8 L1002.2,387.3 L1003.3,387.5 L1004.5,387.2 L1005.6,386.7 L1006.7,386.1 L1007.9,386.6 L1009,386.4 L1010.2,386.3 L1011.3,386.8 L1012.5,387.2 L1013.6,387.1 L1014.7,387 L1015.9,387.1 L1017,387.1 L1018.2,386.7 L1019.3,386.3 L1020.5,386.7 L1021.6,387 L1022.7,386.5 L1023.9,386 L1025,385.8 L1026.2,385.4 L1027.3,385 L1028.5,385.4 L1029.6,385.9 L1030.7,386 L1031.9,386.3 L1033,386.1 L1034.2,385.9 L1035.3,385.8 L1036.5,386.5 L1037.6,386.6 L1038.7,386.6 L1039.9,386.4 L1041,386.4 L1042.2,385.4 L1043.3,385.1 L1044.5,385.1 L1045.6,385.5 L1046.8,385.5 L1047.9,385.6 L1049,385.5 L1050.2,385.3 L1051.3,385.1 L1052.5,385.1 L1053.6,385.6 L1054.8,385.7 L1055.9,386.2 L1057,386.2 L1058.2,386.3 L1059.3,385.5 L1060.5,385.4 L1061.6,385.3 L1062.8,385.5 L1063.9,385.5 L1065,386.2 L1066.2,386.3 L1067.3,386.1 L1068.5,385.6 L1069.6,385.7 L1070.8,385.6 L1071.9,385.6 L1073,385.6 L1074.2,385.9 L1075.3,385.7 L1076.5,385.4 L1077.6,385.8 L1078.8,386 L1079.9,385.8 L1081,386.1 L1082.2,386.5 L1083.3,386 L1084.5,386.1 L1085.6,385.8 L1086.8,385.3 L1087.9,384.5 L1089,384.8 L1090.2,384.2 L1091.3,384.6 L1092.5,384.5 L1093.6,384.8 L1094.8,384.5 L1095.9,385 L1097,384.9 L1098.2,385.5 L1099.3,385.8 L1100.5,386 L1101.6,385.8 L1102.8,385.8 L1103.9,385.4 L1105,385.2 L1106.2,385 L1107.3,385.1 L1108.5,384.9 L1109.6,385 L1110.8,385 L1111.9,384.8 L1113,385 L1114.2,384.5 L1115.3,384.3 L1116.5,384.7 L1117.6,384.3 L1118.8,383.9 L1119.9,384.5 L1121,384.2 L1122.2,384.4 L1123.3,384.4 L1124.5,384.9 L1125.6,385.1 L1126.8,385.7 L1127.9,385 L1129,385.7 L1130.2,385.2 L1131.3,385 L1132.5,384.5 L1133.6,384.5 L1134.8,384.6 L1135.9,384.6 L1137,384.3 L1138.2,384.6 L1139.3,384.3 L1140.5,384.4 L1141.6,384.7 L1142.8,384.4 L1143.9,384.4 L1145,384.5 L1146.2,384.1 L1147.3,384 L1148.5,384.2 L1149.6,384.4 L1150.8,384.4 L1151.9,384.8 L1153,384.8 L1154.2,385.1 L1155.3,384.8 L1156.5,384.8 L1157.6,384.3 L1158.8,384.4 L1159.9,384.5 L1161,385.1 L1162.2,385.5 L1163.3,385.8 L1164.5,385.6 L1165.6,385.5 L1166.8,385 L1167.9,385 L1169.1,385.1 L1170.2,385 L1171.3,384.7 L1172.5,385.1 L1173.6,384.8 L1174.8,384.5 L1175.9,385 L1177.1,385 L1178.2,384.7 L1179.3,384.5 L1180.5,384.1 L1181.6,384 L1182.8,383.8 L1183.9,383.7 L1185.1,383.7 L1186.2,384.3 L1187.3,384.1 L1188.5,384.3 L1189.6,384.1 L1190.8,384.2 L1191.9,383.7 L1193.1,383.8 L1194.2,383.9 L1195.3,384.2 L1196.5,384.7 L1197.6,385.2 L1198.8,385.2 L1199.9,385.2 L1201.1,385.1 L1202.2,384.9 L1203.3,385 L1204.5,384.6 L1205.6,384.8 L1206.8,384.9 L1207.9,384.9 L1209.1,384.8 L1210.2,384.8 L1211.3,384.3 L1212.5,384.6 L1213.6,384.4 L1214.8,384 L1215.9,384.3 L1217.1,384.5 L1218.2,383.7 L1219.3,383.1 L1220.5,383.1 L1221.6,383 L1222.8,383.1 L1223.9,383.5 L1225.1,384 L1226.2,384.5 L1227.3,384 L1228.5,383.9 L1229.6,383.8 L1230.8,383.5 L1231.9,383.2 L1233.1,383.6 L1234.2,383.6 L1235.3,383.5 L1236.5,383.7 L1237.6,384.2 L1238.8,384 L1239.9,383.7 L1241.1,384.1 L1242.2,384.3 L1243.3,384 L1244.5,384 L1245.6,384.6 L1246.8,384.3 L1247.9,383.9 L1249.1,383.7 L1250.2,383.9 L1251.3,383.9 L1252.5,384.2 L1253.6,384.4 L1254.8,384.8 L1255.9,384.8 L1257.1,384.9 L1258.2,384.4 L1259.3,384 L1260.5,384 L1261.6,383.7 L1262.8,383.4 L1263.9,383.7 L1265.1,383.9 L1266.2,383.6 L1267.3,384.3 L1268.5,383.8 L1269.6,384 L1270.8,384.6 L1271.9,384.7 L1273.1,384.4 L1274.2,385.1 L1275.3,385.4" stroke="#ff0000" stroke-width="8.5" fill="none" stroke-dasharray="6.5 17" stroke-linecap="round"/>
<path d="M246.6,505.3 L247.8,505.8 L248.9,505.2 L250.1,505.1 L251.2,505.5 L252.4,506.2 L253.5,506.2 L254.7,505.7 L255.8,505.2 L256.9,505.8 L258.1,505.6 L259.2,505.8 L260.4,505.6 L261.5,505.3 L262.7,504.9 L263.8,504.5 L264.9,503.4 L266.1,503.5 L267.2,503.7 L268.4,504.4 L269.5,504.2 L270.7,504.8 L271.8,505.1 L272.9,505.6 L274.1,505 L275.2,504.8 L276.4,504.4 L277.5,504.7 L278.7,505.3 L279.8,505.1 L280.9,504.9 L282.1,505.8 L283.2,506.5 L284.4,506.5 L285.5,506.7 L286.7,506.5 L287.8,506.2 L288.9,505.7 L290.1,506.5 L291.2,506.4 L292.4,506.8 L293.5,507.2 L294.7,506.9 L295.8,507.9 L296.9,507.9 L298.1,506.8 L299.2,507.2 L300.4,507.3 L301.5,507.1 L302.7,507.7 L303.8,506.6 L304.9,506.8 L306.1,508.1 L307.2,508.1 L308.4,507.7 L309.5,507.9 L310.7,507.5 L311.8,506.3 L312.9,505.7 L314.1,505.1 L315.2,506.1 L316.4,506.6 L317.5,506.1 L318.7,505.7 L319.8,506.3 L320.9,505.3 L322.1,504.7 L323.2,504.8 L324.4,505 L325.5,505.5 L326.7,506.2 L327.8,506.5 L328.9,507.3 L330.1,507.9 L331.2,508.1 L332.4,507 L333.5,506.6 L334.7,506.6 L335.8,506.7 L336.9,507 L338.1,506.8 L339.2,506.8 L340.4,507.6 L341.5,507.2 L342.7,506.5 L343.8,506.5 L344.9,506.6 L346.1,506.7 L347.2,507.1 L348.4,507.6 L349.5,507.3 L350.7,507.7 L351.8,506.6 L352.9,506.2 L354.1,505.5 L355.2,504.6 L356.4,504.4 L357.5,505.9 L358.7,505.4 L359.8,505.9 L360.9,507.2 L362.1,507.2 L363.2,507.3 L364.4,507 L365.5,506.2 L366.7,506.2 L367.8,506.4 L369,506.3 L370.1,506.5 L371.2,506 L372.4,506.1 L373.5,505.7 L374.7,505.7 L375.8,506.2 L377,506.4 L378.1,506.6 L379.2,506.9 L380.4,506.2 L381.5,506.1 L382.7,505.4 L383.8,504.6 L385,504.4 L386.1,503.9 L387.2,503.8 L388.4,504.6 L389.5,505.5 L390.7,505 L391.8,505.2 L393,505.2 L394.1,506.5 L395.2,505.7 L396.4,506.4 L397.5,506 L398.7,505.8 L399.8,506.7 L401,506.1 L402.1,505.4 L403.2,504.9 L404.4,504.6 L405.5,504.1 L406.7,504.9 L407.8,504.6 L409,504.9 L410.1,504.4 L411.2,503.9 L412.4,503.9 L413.5,503.9 L414.7,503.8 L415.8,504 L417,504 L418.1,503.4 L419.2,503 L420.4,503.3 L421.5,503.7 L422.7,502.6 L423.8,502.8 L425,503.9 L426.1,504.2 L427.2,503.7 L428.4,503.3 L429.5,503 L430.7,503.5 L431.8,503 L433,502.8 L434.1,503 L435.2,503.2 L436.4,503.2 L437.5,503.8 L438.7,502.5 L439.8,502.1 L441,502.6 L442.1,502.4 L443.2,502.4 L444.4,503.4 L445.5,502.9 L446.7,502.8 L447.8,503.2 L449,502.5 L450.1,502 L451.2,502.4 L452.4,502.4 L453.5,502.8 L454.7,502.7 L455.8,502.3 L457,501.4 L458.1,502 L459.2,502.2 L460.4,502 L461.5,502 L462.7,502.1 L463.8,502.6 L465,503.8 L466.1,503.2 L467.2,502.8 L468.4,502.6 L469.5,502.6 L470.7,502.5 L471.8,502.1 L473,502.4 L474.1,502.4 L475.2,501.1 L476.4,501 L477.5,501.5 L478.7,501.2 L479.8,501.4 L481,501.3 L482.1,499.9 L483.3,499.4 L484.4,500.1 L485.5,499.3 L486.7,499.3 L487.8,499.6 L489,498.8 L490.1,498.7 L491.3,499.7 L492.4,499.2 L493.5,498.5 L494.7,498.8 L495.8,498.5 L497,498.4 L498.1,498.5 L499.3,497.6 L500.4,497.2 L501.5,497.8 L502.7,498.5 L503.8,497.9 L505,498.5 L506.1,499.4 L507.3,500 L508.4,499.8 L509.5,500.5 L510.7,499.9 L511.8,499.7 L513,499 L514.1,498.7 L515.3,498.2 L516.4,498.7 L517.5,498.5 L518.7,498.6 L519.8,498.7 L521,499.7 L522.1,499.1 L523.3,498.5 L524.4,497.6 L525.5,496.5 L526.7,495.9 L527.8,496.2 L529,496.8 L530.1,497.1 L531.3,497 L532.4,498.6 L533.5,499.6 L534.7,499.1 L535.8,498.5 L537,498.5 L538.1,499 L539.3,499.6 L540.4,499.4 L541.5,499.4 L542.7,499.6 L543.8,498.8 L545,499.2 L546.1,498.4 L547.3,497.9 L548.4,497.5 L549.5,497.4 L550.7,497.7 L551.8,497.9 L553,497.1 L554.1,497.6 L555.3,498 L556.4,496.8 L557.5,497.5 L558.7,496.6 L559.8,495.9 L561,495.6 L562.1,495.2 L563.3,495.1 L564.4,496.3 L565.5,496.5 L566.7,495.8 L567.8,496.2 L569,496.1 L570.1,496.3 L571.3,495.6 L572.4,496 L573.5,496.4 L574.7,496.8 L575.8,496.3 L577,496.6 L578.1,496.7 L579.3,496.9 L580.4,496.2 L581.5,495.6 L582.7,495.6 L583.8,495.7 L585,495.8 L586.1,495.3 L587.3,494.8 L588.4,495.3 L589.5,495 L590.7,494.5 L591.8,494 L593,493.8 L594.1,494 L595.3,494.4 L596.4,493.3 L597.6,493.4 L598.7,493.5 L599.8,493.6 L601,493.4 L602.1,493.1 L603.3,492.1 L604.4,492.1 L605.6,491.7 L606.7,491.7 L607.8,492.3 L609,492.5 L610.1,492.3 L611.3,492.9 L612.4,492.6 L613.6,492.1 L614.7,491.8 L615.8,491.4 L617,490.8 L618.1,490.9 L619.3,490.8 L620.4,490.9 L621.6,491.2 L622.7,490.5 L623.8,489.7 L625,489 L626.1,489.3 L627.3,490.3 L628.4,490.1 L629.6,491.2 L630.7,492.8 L631.8,492.3 L633,492 L634.1,491.1 L635.3,490.2 L636.4,490.3 L637.6,490.3 L638.7,489.4 L639.8,489.3 L641,489.2 L642.1,489.5 L643.3,489.1 L644.4,488.3 L645.6,487.3 L646.7,487.3 L647.8,487.3 L649,487.1 L650.1,487.2 L651.3,487.4 L652.4,487.6 L653.6,487.6 L654.7,487.3 L655.8,486 L657,485.9 L658.1,485.1 L659.3,484.2 L660.4,484.3 L661.6,484.6 L662.7,485 L663.8,485.4 L665,485.2 L666.1,485.3 L667.3,486 L668.4,486 L669.6,485.3 L670.7,485.1 L671.8,485.4 L673,485.2 L674.1,485.4 L675.3,484.9 L676.4,483.3 L677.6,482.4 L678.7,482.6 L679.8,483 L681,482.9 L682.1,483.1 L683.3,483.7 L684.4,483.4 L685.6,483.5 L686.7,482.7 L687.8,481.3 L689,480.3 L690.1,480.8 L691.3,480 L692.4,480.1 L693.6,480.6 L694.7,479.9 L695.8,480.1 L697,480.7 L698.1,480.6 L699.3,480.1 L700.4,480.1 L701.6,479.4 L702.7,479.8 L703.9,479.3 L705,479.4 L706.1,478.9 L707.3,477.6 L708.4,477.4 L709.6,477.4 L710.7,477.6 L711.9,477.6 L713,477.2 L714.1,476.5 L715.3,478.1 L716.4,477.7 L717.6,477.6 L718.7,476.6 L719.9,476.2 L721,475.3 L722.1,475.1 L723.3,474.6 L724.4,474.3 L725.6,474 L726.7,473.9 L727.2,473 L727.6,473.8 L727.9,473.1 L728.1,472.6 L728.5,473.2 L729,472.3 L729.5,471.6 L729.9,471.4 L730.1,470.9 L730.4,470.6 L730.8,471.4 L731.3,471 L731.7,471.1 L732.2,470.9 L732.4,470.7 L732.7,470.9 L733.1,470.9 L733.6,470.7 L734,470.4 L734.5,470.4 L734.7,470.3 L734.9,469.3 L735.4,469.4 L735.9,469.3 L736.3,468.6 L736.8,468.8 L737,468.4 L737.2,467.9 L737.7,468.2 L738.1,468.7 L738.6,468.5 L739.1,468.5 L739.3,467.6 L739.5,468.1 L740,466.8 L740.4,465.9 L740.9,465.1 L741.3,466 L741.6,465.3 L741.8,465.5 L742.3,464.3 L742.7,464.2 L743.2,464.5 L743.6,463.7 L743.9,463 L744.1,463.8 L744.5,463.6 L745,464.3 L745.5,464.4 L745.9,463.7 L746.1,463.3 L746.4,464.3 L746.8,463 L747.3,463.1 L747.7,462.4 L748.2,462.2 L748.4,462.3 L748.7,463.7 L749.1,462.4 L749.6,462 L750,460.8 L750.5,459.9 L750.7,460.4 L750.9,460.5 L751.4,459.1 L751.9,459 L752.3,458.7 L752.8,458.4 L753,457.5 L753.2,457.1 L753.7,455.8 L754.1,456.3 L754.6,456.2 L755.1,455.2 L755.3,453.6 L755.5,454.5 L756,454.9 L756.4,455 L756.9,454.7 L757.3,454.2 L757.6,452.8 L757.8,452 L758.3,452 L758.7,450.4 L759.2,450.2 L759.6,449.6 L759.9,450.2 L760.1,450 L760.5,450.4 L761,450 L761.5,449.2 L761.9,447.8 L762.1,448.5 L762.4,447.9 L762.8,447 L763.3,445.9 L763.7,444.9 L764.2,444.6 L764.4,444.3 L764.7,444.7 L765.1,444.2 L765.6,443.4 L766,442.2 L766.5,441.3 L766.7,440 L766.9,440.1 L767.4,439.7 L767.9,438.6 L768.3,439 L768.8,438 L769,437.4 L769.2,437.3 L769.7,436.3 L770.1,435.6 L770.6,436.4 L771.1,436.3 L771.3,436.3 L771.5,436.2 L772,435.3 L772.4,435 L772.9,434.1 L773.3,433.8 L773.6,433.1 L773.8,433.4 L774.3,433.6 L774.7,433.6 L775.2,433.6 L775.6,433.6 L775.9,432.5 L776.1,433.3 L776.5,433 L777,432.5 L777.5,432.4 L777.9,432.9 L778.1,432.2 L778.4,432.9 L778.8,432.1 L779.3,431.7 L779.7,430.2 L780.2,430 L780.4,430.6 L780.7,431.2 L781.1,431.3 L781.6,430.3 L782,430.3 L782.5,430.5 L782.7,429.2 L782.9,428.5 L783.4,427.8 L783.9,427.1 L784.3,427.5 L784.8,427.7 L785,427.5 L785.2,428.1 L785.7,428 L786.1,428.4 L786.6,428.5 L787.1,428.3 L787.3,427.7 L787.5,427.3 L788,427.1 L788.4,426.1 L788.9,425.8 L789.3,425.7 L789.6,425.9 L789.8,426.2 L790.3,427.2 L790.7,426.7 L791.2,427 L791.6,426.6 L791.9,426.5 L792.1,426.8 L792.5,426.5 L793,425.7 L793.5,426 L793.9,425.1 L794.1,425.1 L794.4,424.5 L794.8,423.8 L795.3,423.9 L796.4,423.8 L797.6,422.4 L798.7,422.1 L799.9,422.1 L801,422.9 L802.1,422.3 L803.3,422 L804.4,422.5 L805.6,421.9 L806.7,420.9 L807.9,421.1 L809,421.1 L810.1,421 L811.3,421.4 L812.4,421 L813.6,421.3 L814.7,421.2 L815.9,420.7 L817,419.8 L818.1,419.4 L819.3,419.6 L820.4,419.3 L821.6,419.1 L822.7,419.1 L823.9,419.6 L825,419.4 L826.2,419.2 L827.3,417.9 L828.4,417.9 L829.6,418 L830.7,418.2 L831.9,418.4 L833,417.5 L834.2,416.3 L835.3,416.3 L836.4,416.2 L837.6,415.5 L838.7,415.5 L839.9,415 L841,415.3 L842.2,415.1 L843.3,415.2 L844.4,416.1 L845.6,417 L846.7,416.3 L847.9,415.5 L849,415.2 L850.2,413.7 L851.3,413.1 L852.4,413.2 L853.6,412.4 L854.7,412.7 L855.9,413.4 L857,413.6 L858.2,413.4 L859.3,412.9 L860.4,412.5 L861.6,413.4 L862.7,414.3 L863.9,414.5 L865,414.5 L866.2,415.3 L867.3,415.3 L868.4,413.9 L869.6,412.9 L870.7,412.4 L871.9,412.3 L873,411.1 L874.2,410.1 L875.3,410.4 L876.4,410.3 L877.6,409.3 L878.7,409 L879.9,409.5 L881,409.7 L882.2,409.7 L883.3,409.5 L884.4,409.5 L885.6,409.5 L886.7,409.6 L887.9,409.4 L889,408.9 L890.2,408.8 L891.3,408.5 L892.4,408.5 L893.6,408.2 L894.7,407.1 L895.9,406.5 L897,407.2 L898.2,407.5 L899.3,407.2 L900.4,407.3 L901.6,408.8 L902.7,409.5 L903.9,409.7 L905,409 L906.2,409.2 L907.3,408.8 L908.4,407.7 L909.6,407.8 L910.7,408.8 L911.9,409.1 L913,409.3 L914.2,408.4 L915.3,408.1 L916.4,408.1 L917.6,407.1 L918.7,406.6 L919.9,406.1 L921,405.1 L922.2,405.9 L923.3,405.6 L924.4,405.4 L925.6,405 L926.7,404.7 L927.9,403.9 L929,404.5 L930.2,404.6 L931.3,405 L932.5,405.6 L933.6,405.7 L934.7,405.6 L935.9,405.8 L937,405.1 L938.2,405.3 L939.3,404.6 L940.5,402.8 L941.6,403.2 L942.7,403.5 L943.9,403.9 L945,404.5 L946.2,404.5 L947.3,404.2 L948.5,404.6 L949.6,403.7 L950.7,403.1 L951.9,403.3 L953,403.6 L954.2,404.6 L955.3,405.3 L956.5,405.9 L957.6,405.7 L958.7,407.2 L959.9,407.2 L961,406.2 L962.2,405.3 L963.3,404.7 L964.5,404.5 L965.6,404.6 L966.7,403.5 L967.9,403.3 L969,404 L970.2,403.6 L971.3,403.2 L972.5,404.2 L973.6,404.1 L974.7,404.5 L975.9,404.6 L977,403.9 L978.2,403.4 L979.3,403.8 L980.5,404 L981.6,403.6 L982.7,403.8 L983.9,404 L985,404.2 L986.2,403.8 L987.3,403.3 L988.5,403.2 L989.6,403.5 L990.7,404.1 L991.9,404.4 L993,403.1 L994.2,403.9 L995.3,404.1 L996.5,404.3 L997.6,403.9 L998.7,403.5 L999.9,402.3 L1001,402.3 L1002.2,401 L1003.3,401.8 L1004.5,402.5 L1005.6,402 L1006.7,403.4 L1007.9,404.4 L1009,403.7 L1010.2,403.7 L1011.3,403.8 L1012.5,402.8 L1013.6,402.4 L1014.7,401.6 L1015.9,400.9 L1017,402 L1018.2,402.3 L1019.3,402.4 L1020.5,402.6 L1021.6,402.7 L1022.7,402.6 L1023.9,403.8 L1025,404 L1026.2,404.6 L1027.3,404.4 L1028.5,403.9 L1029.6,403.5 L1030.7,403.3 L1031.9,402.9 L1033,401.8 L1034.2,401.9 L1035.3,401.9 L1036.5,402.2 L1037.6,401.4 L1038.7,401.9 L1039.9,401.9 L1041,402.5 L1042.2,401.9 L1043.3,401.5 L1044.5,401.8 L1045.6,402.1 L1046.8,401.8 L1047.9,402.4 L1049,403.6 L1050.2,403.2 L1051.3,403.6 L1052.5,402.6 L1053.6,402.9 L1054.8,402.4 L1055.9,401.8 L1057,400.7 L1058.2,400.9 L1059.3,400.6 L1060.5,401.2 L1061.6,400.5 L1062.8,400.6 L1063.9,400.7 L1065,401.2 L1066.2,401.2 L1067.3,401 L1068.5,401.2 L1069.6,402.1 L1070.8,402.7 L1071.9,402.6 L1073,401.1 L1074.2,400.5 L1075.3,400.9 L1076.5,400.7 L1077.6,400 L1078.8,401.3 L1079.9,401.9 L1081,402.5 L1082.2,402.2 L1083.3,403.2 L1084.5,403.2 L1085.6,402.8 L1086.8,403.6 L1087.9,403.3 L1089,402.2 L1090.2,402.2 L1091.3,402 L1092.5,402.5 L1093.6,402.5 L1094.8,401.3 L1095.9,400.9 L1097,401 L1098.2,400.7 L1099.3,401.1 L1100.5,400.3 L1101.6,401.2 L1102.8,401.5 L1103.9,401.8 L1105,402.6 L1106.2,403 L1107.3,401.9 L1108.5,401.8 L1109.6,402.4 L1110.8,402.3 L1111.9,401.9 L1113,401.3 L1114.2,401.4 L1115.3,401.2 L1116.5,401.2 L1117.6,399.6 L1118.8,399.9 L1119.9,399.6 L1121,398.8 L1122.2,398.4 L1123.3,399.7 L1124.5,399.6 L1125.6,399.7 L1126.8,400 L1127.9,400 L1129,400.1 L1130.2,399.7 L1131.3,400.2 L1132.5,401.4 L1133.6,401.4 L1134.8,401.3 L1135.9,401.8 L1137,401.4 L1138.2,402 L1139.3,402.7 L1140.5,401.2 L1141.6,401.2 L1142.8,401.3 L1143.9,401.4 L1145,401.4 L1146.2,401.2 L1147.3,400.5 L1148.5,401 L1149.6,400.6 L1150.8,400.6 L1151.9,399.5 L1153,399.1 L1154.2,399.7 L1155.3,399.8 L1156.5,399.8 L1157.6,400.1 L1158.8,400 L1159.9,400.1 L1161,400.5 L1162.2,400.3 L1163.3,400.3 L1164.5,400 L1165.6,400 L1166.8,399.3 L1167.9,399.1 L1169.1,399.9 L1170.2,399.5 L1171.3,399.2 L1172.5,399.5 L1173.6,399.2 L1174.8,399.4 L1175.9,399.7 L1177.1,399.2 L1178.2,399.8 L1179.3,400.2 L1180.5,400.8 L1181.6,400.9 L1182.8,400.3 L1183.9,399.7 L1185.1,398.9 L1186.2,399.1 L1187.3,398.8 L1188.5,398.5 L1189.6,399.2 L1190.8,399.7 L1191.9,400.2 L1193.1,400.6 L1194.2,401.4 L1195.3,402.5 L1196.5,402.1 L1197.6,401.9 L1198.8,401.6 L1199.9,401.5 L1201.1,402.1 L1202.2,401.6 L1203.3,400.5 L1204.5,401.1 L1205.6,401 L1206.8,401.2 L1207.9,400.4 L1209.1,400 L1210.2,401.1 L1211.3,401.6 L1212.5,401.8 L1213.6,400.9 L1214.8,400.6 L1215.9,400.2 L1217.1,400.3 L1218.2,400 L1219.3,399.4 L1220.5,399.2 L1221.6,399.6 L1222.8,398.9 L1223.9,398.5 L1225.1,398.2 L1226.2,398.6 L1227.3,399.1 L1228.5,399.2 L1229.6,400.3 L1230.8,400.8 L1231.9,400.8 L1233.1,401.2 L1234.2,401.6 L1235.3,400.7 L1236.5,400.8 L1237.6,400.9 L1238.8,401 L1239.9,400.4 L1241.1,400.5 L1242.2,399.7 L1243.3,399.8 L1244.5,399.7 L1245.6,400 L1246.8,400.2 L1247.9,400.4 L1249.1,400.8 L1250.2,400.6 L1251.3,400.8 L1252.5,401.4 L1253.6,400.9 L1254.8,400.5 L1255.9,401.1 L1257.1,400.4 L1258.2,400.6 L1259.3,400 L1260.5,398.7 L1261.6,398.9 L1262.8,398.2 L1263.9,398.4 L1265.1,397.9 L1266.2,397.9 L1267.3,398 L1268.5,398.9 L1269.6,398.1 L1270.8,398.7 L1271.9,398.3 L1273.1,398 L1274.2,398.2 L1275.3,398.7" stroke="#000" stroke-width="6" fill="none" stroke-linejoin="round"/>
<path d="M246.6,509.3 L247.8,509.5 L248.9,509 L250.1,509.1 L251.2,509.9 L252.4,510 L253.5,510.3 L254.7,510.3 L255.8,509.6 L256.9,510 L258.1,510 L259.2,510 L260.4,508.7 L261.5,507.9 L262.7,507.2 L263.8,506.9 L264.9,506.2 L266.1,507.2 L267.2,507.3 L268.4,508 L269.5,507.8 L270.7,507.8 L271.8,507.7 L272.9,508.5 L274.1,507.5 L275.2,507.3 L276.4,507.2 L277.5,507.9 L278.7,508.2 L279.8,508.2 L280.9,507.8 L282.1,508.7 L283.2,508.5 L284.4,509.1 L285.5,510 L286.7,510 L287.8,509.6 L288.9,509.5 L290.1,510 L291.2,509.2 L292.4,509.6 L293.5,510.1 L294.7,509.9 L295.8,510.6 L296.9,510.9 L298.1,509.5 L299.2,509.6 L300.4,509.5 L301.5,509.6 L302.7,510 L303.8,509.4 L304.9,509.5 L306.1,510.2 L307.2,510.1 L308.4,509.6 L309.5,509.4 L310.7,509.4 L311.8,509 L312.9,508.3 L314.1,508.5 L315.2,509 L316.4,509.3 L317.5,509 L318.7,508.7 L319.8,509.1 L320.9,508.8 L322.1,509 L323.2,508.9 L324.4,509.2 L325.5,510 L326.7,509.9 L327.8,509.3 L328.9,509.9 L330.1,510 L331.2,510.1 L332.4,509.8 L333.5,509.7 L334.7,509.4 L335.8,509.8 L336.9,509.3 L338.1,508.7 L339.2,508.6 L340.4,508.9 L341.5,509.2 L342.7,509 L343.8,508.9 L344.9,509 L346.1,509.6 L347.2,509.6 L348.4,509.4 L349.5,509.2 L350.7,509.4 L351.8,509.2 L352.9,508.6 L354.1,508.7 L355.2,508.1 L356.4,508.2 L357.5,508.9 L358.7,508.4 L359.8,508.5 L360.9,509.2 L362.1,509.1 L363.2,509.3 L364.4,508.7 L365.5,507.9 L366.7,508.5 L367.8,508.2 L369,508.4 L370.1,508.6 L371.2,508.2 L372.4,508.4 L373.5,508.1 L374.7,508.2 L375.8,508.3 L377,508.8 L378.1,508.9 L379.2,509.3 L380.4,508.5 L381.5,509 L382.7,508.9 L383.8,507.8 L385,507.9 L386.1,507.7 L387.2,507.4 L388.4,507.6 L389.5,508.3 L390.7,508.1 L391.8,508 L393,507.9 L394.1,508.9 L395.2,508.1 L396.4,508.9 L397.5,508.9 L398.7,509.1 L399.8,510.2 L401,510.1 L402.1,509.4 L403.2,509 L404.4,508.8 L405.5,508.1 L406.7,508.7 L407.8,507.8 L409,507.9 L410.1,507.4 L411.2,507.7 L412.4,507.9 L413.5,507.9 L414.7,508 L415.8,508.4 L417,507.7 L418.1,506.8 L419.2,506.9 L420.4,507.4 L421.5,506.9 L422.7,506.3 L423.8,506.6 L425,506.7 L426.1,506.4 L427.2,506.9 L428.4,506.3 L429.5,505.9 L430.7,507 L431.8,506.9 L433,506.1 L434.1,506 L435.2,505.9 L436.4,505.8 L437.5,506.4 L438.7,505.9 L439.8,505.7 L441,505.9 L442.1,505.8 L443.2,505.3 L444.4,505.4 L445.5,505.2 L446.7,505.5 L447.8,506.1 L449,505.6 L450.1,505.5 L451.2,505.2 L452.4,505.6 L453.5,506.5 L454.7,506.5 L455.8,506.3 L457,506.2 L458.1,506.5 L459.2,506.6 L460.4,506.1 L461.5,505.5 L462.7,505.2 L463.8,505.5 L465,506.2 L466.1,505.7 L467.2,506.1 L468.4,505.9 L469.5,505.5 L470.7,505.3 L471.8,504.9 L473,505.1 L474.1,505.4 L475.2,505.1 L476.4,505.1 L477.5,505 L478.7,504.5 L479.8,504.3 L481,503.4 L482.1,502.1 L483.3,502.1 L484.4,502.6 L485.5,502.1 L486.7,503.4 L487.8,503.2 L489,502.2 L490.1,502.1 L491.3,502.8 L492.4,501.6 L493.5,501 L494.7,501.4 L495.8,501.6 L497,502 L498.1,501.9 L499.3,501.6 L500.4,501.6 L501.5,501.9 L502.7,502 L503.8,501.9 L505,502 L506.1,502.6 L507.3,503.7 L508.4,503.3 L509.5,504.1 L510.7,504.1 L511.8,504.1 L513,503 L514.1,502.9 L515.3,502.2 L516.4,502.6 L517.5,502.6 L518.7,502.7 L519.8,503 L521,503.7 L522.1,503.4 L523.3,502.4 L524.4,501.5 L525.5,500.4 L526.7,500.3 L527.8,500 L529,500.2 L530.1,500.7 L531.3,500.6 L532.4,501.6 L533.5,502.7 L534.7,502.8 L535.8,502 L537,501.7 L538.1,502.2 L539.3,502.8 L540.4,502.8 L541.5,502.8 L542.7,503.1 L543.8,502.9 L545,503.4 L546.1,502 L547.3,501.3 L548.4,501.3 L549.5,501.1 L550.7,501.3 L551.8,502.2 L553,501.5 L554.1,501.6 L555.3,502 L556.4,500.6 L557.5,501.3 L558.7,500.8 L559.8,500.1 L561,499.6 L562.1,499.1 L563.3,498.3 L564.4,499.1 L565.5,499.3 L566.7,499.3 L567.8,499.4 L569,499.6 L570.1,499.8 L571.3,498.8 L572.4,498.7 L573.5,499.5 L574.7,500.1 L575.8,499.2 L577,499.3 L578.1,499.7 L579.3,499.5 L580.4,498.5 L581.5,498.3 L582.7,498.8 L583.8,498 L585,497.7 L586.1,497.1 L587.3,497.1 L588.4,497.5 L589.5,497.7 L590.7,497.7 L591.8,497.7 L593,496.9 L594.1,496.9 L595.3,497.8 L596.4,497.1 L597.6,496.7 L598.7,496.6 L599.8,496.7 L601,496.3 L602.1,495.6 L603.3,494.9 L604.4,495.1 L605.6,494.8 L606.7,495.2 L607.8,495.9 L609,496.4 L610.1,495.9 L611.3,496.3 L612.4,495.6 L613.6,495.1 L614.7,494.6 L615.8,495.2 L617,495.2 L618.1,495.2 L619.3,494.6 L620.4,494.8 L621.6,494.2 L622.7,493.7 L623.8,493.2 L625,492.7 L626.1,493.1 L627.3,494 L628.4,493.5 L629.6,494.5 L630.7,496.4 L631.8,495.7 L633,495.6 L634.1,494.2 L635.3,493.4 L636.4,493.5 L637.6,493.5 L638.7,492.7 L639.8,492.7 L641,492.9 L642.1,493.2 L643.3,492.7 L644.4,491.7 L645.6,490.9 L646.7,490.1 L647.8,490.2 L649,490.6 L650.1,490.7 L651.3,491 L652.4,491.7 L653.6,491.4 L654.7,491.4 L655.8,490.3 L657,490.2 L658.1,489.6 L659.3,489.1 L660.4,488.1 L661.6,488.1 L662.7,488.1 L663.8,487.8 L665,487.2 L666.1,488.4 L667.3,489.2 L668.4,489.9 L669.6,489.5 L670.7,489.1 L671.8,489 L673,488.4 L674.1,487.9 L675.3,486.9 L676.4,486.5 L677.6,485.8 L678.7,486.7 L679.8,487.5 L681,487.9 L682.1,487.1 L683.3,487.4 L684.4,486.9 L685.6,487.2 L686.7,486.4 L687.8,485.2 L689,484.3 L690.1,484.7 L691.3,484.1 L692.4,484 L693.6,484.1 L694.7,483.3 L695.8,483.1 L697,483.6 L698.1,483.1 L699.3,483 L700.4,483 L701.6,483 L702.7,482.8 L703.9,482.6 L705,483.1 L706.1,482.6 L707.3,481.6 L708.4,481.2 L709.6,481.3 L710.7,481.9 L711.9,482 L713,481.5 L714.1,481 L715.3,482 L716.4,480.7 L717.6,480.8 L718.7,479.5 L719.9,479.3 L721,478.5 L722.1,478.9 L723.3,478.2 L724.4,477.6 L725.6,476.8 L726.7,477.2 L727.2,476.4 L727.6,476.6 L727.9,476.6 L728.1,476.6 L728.5,476.6 L729,476.2 L729.5,475.2 L729.9,474.9 L730.1,474.5 L730.4,474.3 L730.8,474.4 L731.3,474.1 L731.7,474.5 L732.2,473.9 L732.4,474 L732.7,474.6 L733.1,474.5 L733.6,474.5 L734,475.2 L734.5,475.3 L734.7,475.1 L734.9,475.3 L735.4,475.2 L735.9,475 L736.3,474.8 L736.8,474.9 L737,474.3 L737.2,474.3 L737.7,474.1 L738.1,473.7 L738.6,472.8 L739.1,472 L739.3,471.4 L739.5,471.6 L740,470.8 L740.4,470.6 L740.9,470.3 L741.3,470.8 L741.6,470.1 L741.8,470.4 L742.3,469.8 L742.7,469.2 L743.2,469.4 L743.6,469.7 L743.9,469.2 L744.1,469.8 L744.5,469.4 L745,469.6 L745.5,469.1 L745.9,468 L746.1,467.4 L746.4,469.4 L746.8,468.8 L747.3,468.6 L747.7,468.3 L748.2,468.4 L748.4,468 L748.7,469.3 L749.1,468.3 L749.6,467.6 L750,466.7 L750.5,465.9 L750.7,466.1 L750.9,466 L751.4,464.8 L751.9,464.8 L752.3,464.6 L752.8,465.1 L753,464.9 L753.2,464.6 L753.7,463.4 L754.1,464 L754.6,463.5 L755.1,462.3 L755.3,460.8 L755.5,461.3 L756,461 L756.4,461.4 L756.9,460.7 L757.3,460.1 L757.6,459.3 L757.8,459.5 L758.3,459.4 L758.7,458.5 L759.2,457.4 L759.6,456.3 L759.9,456.5 L760.1,457.3 L760.5,457.2 L761,457.7 L761.5,457 L761.9,455.9 L762.1,455.7 L762.4,454.8 L762.8,454.1 L763.3,453.3 L763.7,451.6 L764.2,450.9 L764.4,451.2 L764.7,450.6 L765.1,450.3 L765.6,449.6 L766,448.7 L766.5,448.6 L766.7,448.4 L766.9,447.8 L767.4,447.5 L767.9,446.5 L768.3,446 L768.8,445.3 L769,444.6 L769.2,444.1 L769.7,442.9 L770.1,442.3 L770.6,441.8 L771.1,441.7 L771.3,441.3 L771.5,440.9 L772,440.1 L772.4,440.1 L772.9,439.7 L773.3,439.1 L773.6,438.6 L773.8,438.6 L774.3,438.6 L774.7,438.4 L775.2,438.4 L775.6,438.5 L775.9,437.6 L776.1,438 L776.5,437.7 L777,437.3 L777.5,437.1 L777.9,436.4 L778.1,436.3 L778.4,437.1 L778.8,436.7 L779.3,436.7 L779.7,436.1 L780.2,435.3 L780.4,435.6 L780.7,435.8 L781.1,435.2 L781.6,434.1 L782,434.3 L782.5,434.8 L782.7,433.5 L782.9,433.3 L783.4,432 L783.9,431.3 L784.3,431.3 L784.8,431 L785,430.5 L785.2,431.9 L785.7,432 L786.1,433.1 L786.6,433.4 L787.1,433.9 L787.3,432.7 L787.5,432.3 L788,432 L788.4,431.4 L788.9,430.6 L789.3,430.8 L789.6,430.7 L789.8,431.3 L790.3,431.9 L790.7,431.8 L791.2,432.2 L791.6,432.3 L791.9,431.7 L792.1,431.9 L792.5,431.4 L793,430.1 L793.5,429.9 L793.9,429.7 L794.1,429.4 L794.4,428.7 L794.8,428.2 L795.3,428.2 L796.4,427.6 L797.6,426 L798.7,425.2 L799.9,425.3 L801,425.4 L802.1,425 L803.3,425.1 L804.4,426.1 L805.6,425.9 L806.7,426.1 L807.9,425.5 L809,425 L810.1,425.1 L811.3,424.9 L812.4,423.9 L813.6,424.8 L814.7,425.1 L815.9,424.8 L817,424.1 L818.1,424 L819.3,423.9 L820.4,423.4 L821.6,422.6 L822.7,422.2 L823.9,423 L825,423.1 L826.2,423.3 L827.3,422.2 L828.4,422.4 L829.6,421.7 L830.7,421.9 L831.9,421.6 L833,420.9 L834.2,419.8 L835.3,420.2 L836.4,419.7 L837.6,419.1 L838.7,419.2 L839.9,418.5 L841,419.1 L842.2,418.9 L843.3,418.9 L844.4,418.6 L845.6,419.1 L846.7,418 L847.9,417.3 L849,417 L850.2,417.1 L851.3,416.8 L852.4,417 L853.6,415.7 L854.7,415.7 L855.9,415.4 L857,415.5 L858.2,415 L859.3,415 L860.4,415.5 L861.6,416.6 L862.7,417.5 L863.9,418.4 L865,418 L866.2,418.5 L867.3,418.9 L868.4,418.3 L869.6,416.9 L870.7,416.5 L871.9,416.3 L873,415.2 L874.2,413.8 L875.3,413.7 L876.4,413.5 L877.6,413.1 L878.7,412.4 L879.9,412.5 L881,413.1 L882.2,413.3 L883.3,412.6 L884.4,412.9 L885.6,412.6 L886.7,412.3 L887.9,412.1 L889,412 L890.2,411.6 L891.3,412.1 L892.4,412.7 L893.6,412.5 L894.7,411.7 L895.9,411.2 L897,412.3 L898.2,413 L899.3,413 L900.4,413 L901.6,414.4 L902.7,414.1 L903.9,413.9 L905,413.3 L906.2,412.8 L907.3,412.9 L908.4,412.8 L909.6,412.6 L910.7,413 L911.9,413.3 L913,413.1 L914.2,411.7 L915.3,411.4 L916.4,411.5 L917.6,410.7 L918.7,410.2 L919.9,410.1 L921,409.7 L922.2,410.8 L923.3,410.6 L924.4,410.6 L925.6,410.2 L926.7,409.3 L927.9,408.4 L929,409.3 L930.2,408.9 L931.3,409.1 L932.5,409.9 L933.6,409.8 L934.7,408.9 L935.9,409.5 L937,408.6 L938.2,408.4 L939.3,408.1 L940.5,407 L941.6,406.8 L942.7,406.8 L943.9,406.8 L945,406.6 L946.2,406.1 L947.3,406.4 L948.5,406.5 L949.6,406.5 L950.7,407.1 L951.9,407.3 L953,407.9 L954.2,409.4 L955.3,410 L956.5,410.5 L957.6,410.6 L958.7,411.2 L959.9,410.8 L961,409.8 L962.2,408.1 L963.3,407.2 L964.5,407.3 L965.6,407.3 L966.7,406.4 L967.9,406.3 L969,407.4 L970.2,406.9 L971.3,406.7 L972.5,406.7 L973.6,406.8 L974.7,406.6 L975.9,406.7 L977,406.7 L978.2,407.2 L979.3,408 L980.5,408.6 L981.6,408 L982.7,407.7 L983.9,407.3 L985,406.7 L986.2,405.7 L987.3,405.8 L988.5,405.4 L989.6,406.1 L990.7,406.7 L991.9,407.1 L993,405.6 L994.2,406.4 L995.3,406.6 L996.5,407.1 L997.6,407.2 L998.7,406.7 L999.9,405.5 L1001,405.6 L1002.2,404.1 L1003.3,404.2 L1004.5,404.7 L1005.6,404.7 L1006.7,405.4 L1007.9,406.3 L1009,405.5 L1010.2,405.8 L1011.3,405.4 L1012.5,405.1 L1013.6,405 L1014.7,404.4 L1015.9,403.4 L1017,404 L1018.2,404.6 L1019.3,405.2 L1020.5,405.9 L1021.6,406.6 L1022.7,407.1 L1023.9,408 L1025,407.9 L1026.2,408.2 L1027.3,407.9 L1028.5,407.4 L1029.6,406.9 L1030.7,406.8 L1031.9,406.4 L1033,405.2 L1034.2,405.6 L1035.3,405.4 L1036.5,405.4 L1037.6,404.1 L1038.7,404.7 L1039.9,404.4 L1041,404.7 L1042.2,404 L1043.3,403.8 L1044.5,404.2 L1045.6,404.3 L1046.8,404.2 L1047.9,404.6 L1049,406.1 L1050.2,405.8 L1051.3,406.2 L1052.5,406.3 L1053.6,407 L1054.8,406.3 L1055.9,405.6 L1057,404.6 L1058.2,404.1 L1059.3,403.7 L1060.5,403.8 L1061.6,403.2 L1062.8,403.3 L1063.9,403.2 L1065,403.3 L1066.2,403.7 L1067.3,403.3 L1068.5,403.4 L1069.6,404.7 L1070.8,404.8 L1071.9,405 L1073,404.5 L1074.2,405.1 L1075.3,405.3 L1076.5,405.3 L1077.6,404.7 L1078.8,404.6 L1079.9,403.9 L1081,404.4 L1082.2,404.5 L1083.3,405.1 L1084.5,405.6 L1085.6,405.9 L1086.8,406.9 L1087.9,406.5 L1089,405.6 L1090.2,405.2 L1091.3,405.4 L1092.5,405.6 L1093.6,405.8 L1094.8,404.3 L1095.9,404.1 L1097,404 L1098.2,403.5 L1099.3,403.8 L1100.5,403.6 L1101.6,403.9 L1102.8,404.1 L1103.9,404.9 L1105,405.7 L1106.2,405.8 L1107.3,405.4 L1108.5,405.2 L1109.6,405.1 L1110.8,404.7 L1111.9,404.2 L1113,403.5 L1114.2,403.6 L1115.3,403.8 L1116.5,404 L1117.6,403.3 L1118.8,403.9 L1119.9,403.9 L1121,403.1 L1122.2,402.8 L1123.3,402.9 L1124.5,402.5 L1125.6,402.2 L1126.8,402.6 L1127.9,402.2 L1129,403.3 L1130.2,402.6 L1131.3,402.8 L1132.5,404 L1133.6,404.9 L1134.8,404.3 L1135.9,405 L1137,405.4 L1138.2,405.8 L1139.3,405.9 L1140.5,404.3 L1141.6,403.8 L1142.8,403.7 L1143.9,404.1 L1145,404.2 L1146.2,404.2 L1147.3,404.1 L1148.5,404.8 L1149.6,404.1 L1150.8,404.2 L1151.9,403.2 L1153,402.3 L1154.2,403 L1155.3,403.1 L1156.5,402.6 L1157.6,403 L1158.8,403.3 L1159.9,403.1 L1161,403.5 L1162.2,403.4 L1163.3,403.2 L1164.5,401.9 L1165.6,402.3 L1166.8,401.8 L1167.9,401.4 L1169.1,402.3 L1170.2,402.9 L1171.3,402 L1172.5,402.4 L1173.6,402.3 L1174.8,403.2 L1175.9,403.6 L1177.1,403.5 L1178.2,404.1 L1179.3,403.7 L1180.5,403.6 L1181.6,403 L1182.8,402.2 L1183.9,401.7 L1185.1,402.6 L1186.2,402.6 L1187.3,402.6 L1188.5,402.3 L1189.6,403 L1190.8,402.8 L1191.9,403.3 L1193.1,403.8 L1194.2,403.6 L1195.3,404.6 L1196.5,404.6 L1197.6,404.1 L1198.8,404.3 L1199.9,404.7 L1201.1,405.4 L1202.2,404.7 L1203.3,403.6 L1204.5,403.9 L1205.6,404.3 L1206.8,404.3 L1207.9,403.2 L1209.1,402.9 L1210.2,404.3 L1211.3,404 L1212.5,404.3 L1213.6,403.5 L1214.8,403.4 L1215.9,402.6 L1217.1,403 L1218.2,402.8 L1219.3,402.6 L1220.5,402.2 L1221.6,403.1 L1222.8,402.3 L1223.9,402 L1225.1,401.6 L1226.2,402.3 L1227.3,402.8 L1228.5,403.1 L1229.6,403.6 L1230.8,404.1 L1231.9,404.5 L1233.1,405.1 L1234.2,404.9 L1235.3,404.7 L1236.5,404.5 L1237.6,404.1 L1238.8,403.5 L1239.9,403.5 L1241.1,403.1 L1242.2,402.2 L1243.3,402.6 L1244.5,402.1 L1245.6,402.5 L1246.8,402.9 L1247.9,403.4 L1249.1,403.6 L1250.2,404.3 L1251.3,404.4 L1252.5,405.1 L1253.6,404.6 L1254.8,404.5 L1255.9,405 L1257.1,404.6 L1258.2,404.7 L1259.3,403.9 L1260.5,402.3 L1261.6,402.4 L1262.8,401.6 L1263.9,401.5 L1265.1,401.4 L1266.2,401.7 L1267.3,401.6 L1268.5,402.4 L1269.6,402.1 L1270.8,401.8 L1271.9,400.9 L1273.1,400.3 L1274.2,400.1 L1275.3,400.5" stroke="#000" stroke-width="6" fill="none" stroke-linejoin="round"/>
<path d="M246.6,805.3 L248,805.7 L249.4,806.3 L250.8,806.4 L252.1,807.2 L253.5,805.3 L254.9,804.7 L256.3,804.8 L257.6,805.3 L259,804.6 L260.4,804.8 L261.7,804.4 L263.1,805.5 L264.5,804.6 L265.9,804.2 L267.2,802.9 L268.6,803.8 L270,803.2 L271.3,803.7 L272.7,804 L274.1,804.6 L275.5,804.6 L276.8,804.6 L278.2,804.5 L279.6,805.8 L280.9,804.7 L282.3,805.1 L283.7,805 L285.1,805.5 L286.4,807.4 L287.8,806.4 L289.2,806.3 L290.5,807 L291.9,805.5 L293.3,805.2 L294.7,804.4 L296,803.7 L297.4,804.2 L298.8,803.5 L300.1,803.2 L301.5,804.3 L302.9,805.3 L304.3,805.6 L305.6,805.7 L307,805.5 L308.4,806.6 L309.7,806 L311.1,805.5 L312.5,805.7 L313.9,806.1 L315.2,804.4 L316.6,804.9 L318,803.2 L319.3,802.9 L320.7,803.8 L322.1,803 L323.5,802.9 L324.8,803.8 L326.2,804.8 L327.6,805.5 L328.9,805.3 L330.3,804.2 L331.7,804.2 L333.1,804.1 L334.4,804.3 L335.8,803.7 L337.2,803.9 L338.5,804.6 L339.9,805.4 L341.3,805.9 L342.7,806 L344,806.4 L345.4,806.3 L346.8,805.9 L348.1,804.8 L349.5,804.2 L350.9,804.4 L352.3,802.8 L353.6,802.1 L355,801.9 L356.4,801.9 L357.7,802.3 L359.1,803.7 L360.5,804.4 L361.9,805.6 L363.2,806.6 L364.6,807.1 L366,806.8 L367.4,808.9 L368.7,807.4 L370.1,806.5 L371.5,806 L372.8,805.3 L374.2,803.8 L375.6,804.4 L377,803.5 L378.3,804.2 L379.7,804.2 L381.1,805.7 L382.4,805.1 L383.8,806.4 L385.2,806.2 L386.6,805.8 L387.9,805.7 L389.3,805.9 L390.7,805 L392,805 L393.4,804.1 L394.8,804.5 L396.2,804.3 L397.5,803.6 L398.9,803.1 L400.3,802.7 L401.6,803.1 L403,803.5 L404.4,803.2 L405.8,802.9 L407.1,803.5 L408.5,803.1 L409.9,801.8 L411.2,801.8 L412.6,800.7 L414,800.1 L415.4,799.7 L416.7,800 L418.1,800.1 L419.5,801.8 L420.8,801.5 L422.2,801.7 L423.6,801.3 L425,802.2 L426.3,802 L427.7,803 L429.1,803.9 L430.4,804.2 L431.8,805 L433.2,805.8 L434.6,805.5 L435.9,805 L437.3,804 L438.7,804 L440,802.6 L441.4,802.5 L442.8,802.7 L444.2,802.5 L445.5,802 L446.9,802.2 L448.3,800.7 L449.6,800.9 L451,800.6 L452.4,799.9 L453.8,799.3 L455.1,800.1 L456.5,799.4 L457.9,799.8 L459.2,799.9 L460.6,800 L462,800.1 L463.4,800.4 L464.7,799.2 L466.1,799.2 L467.5,798.3 L468.8,798.6 L470.2,798.6 L471.6,799 L473,798.4 L474.3,798.8 L475.7,798.1 L477.1,797.1 L478.5,796.3 L479.8,795.3 L481.2,793.6 L482.6,792.6 L483.9,792.7 L485.3,792.9 L486.7,793 L488.1,794.6 L489.4,794.9 L490.8,795.5 L492.2,796.7 L493.5,795.9 L494.9,797.1 L496.3,797.1 L497.7,794.9 L499,794.6 L500.4,794.2 L501.8,794.5 L503.1,793.8 L504.5,792.3 L505.9,793.1 L507.3,793.9 L508.6,794.3 L510,794.5 L511.4,794.5 L512.7,794.7 L514.1,794.7 L515.5,794.6 L516.9,793.7 L518.2,792.5 L519.6,791.7 L521,789.7 L522.3,788.9 L523.7,788.1 L525.1,786.4 L526.5,786.4 L527.8,785.2 L529.2,786.2 L530.6,787 L531.9,787.8 L533.3,787.5 L534.7,787.5 L536.1,787.5 L537.4,787.9 L538.8,786.5 L540.2,784.6 L541.5,784 L542.9,783 L544.3,782.8 L545.7,780.5 L547,779.3 L548.4,778.6 L549.8,778 L551.1,776.5 L552.5,776.7 L553.9,775.9 L555.3,776.9 L556.6,775.2 L558,774.5 L559.4,774.4 L560.7,773.1 L562.1,771.2 L563.5,771.1 L564.9,769.1 L566.2,769.4 L567.6,768.8 L569,767.6 L570.3,768.1 L571.7,767.7 L573.1,766.7 L574.5,767.3 L575.8,767.2 L577.2,764.9 L578.6,764.8 L579.9,763.8 L581.3,762.9 L582.7,762.7 L584.1,760.2 L585.4,760.1 L586.8,760 L588.2,759.5 L589.5,758.5 L590.9,757.2 L592.3,755.5 L593.7,755.6 L595,753.8 L596.4,753.7 L597.8,751.3 L599.2,750.5 L600.5,750.5 L601.9,749.1 L603.3,747.3 L604.6,745.4 L606,744.1 L607.4,743.8 L608.8,742 L610.1,739.8 L611.5,739.3 L612.9,737.8 L614.2,737.1 L615.6,735.1 L617,732.6 L618.4,731.7 L619.7,730.8 L621.1,729.3 L622.5,729.5 L623.8,727.7 L625.2,727 L626.6,726.6 L628,724.9 L629.3,723.1 L630.7,721.8 L632.1,719.3 L633.4,718 L634.8,716.1 L636.2,714.3 L637.6,712.9 L638.9,712.2 L640.3,710.7 L641.7,709.4 L643,707.4 L644.4,706.1 L645.8,704.2 L647.2,702.9 L648.5,701.6 L649.9,700.6 L651.3,699.5 L652.6,698.1 L654,696.8 L655.4,695 L656.8,693.3 L658.1,691.7 L659.5,689.3 L660.9,686.7 L662.2,684.5 L663.6,682.4 L665,681 L666.4,679.1 L667.7,676.8 L669.1,674.5 L670.5,672.5 L671.8,671.4 L673.2,669.1 L674.6,666.9 L676,664.8 L677.3,662.7 L678.7,660.6 L680.1,659 L681.4,656.3 L682.8,654.1 L684.2,651.6 L685.6,649.1 L686.9,645.7 L688.3,642.8 L689.7,640.2 L691,638.8 L692.4,636.5 L693.8,634.8 L695.2,633.6 L696.5,632.6 L697.9,631 L699.3,629 L700.6,625.9 L702,623.8 L703.4,621.8 L703.9,621.3 L704.2,620.6 L704.5,620 L704.8,619.7 L704.9,620 L705.2,619.6 L705.6,618.7 L705.9,617.9 L706.1,617.7 L706.3,617.4 L706.6,616.5 L706.9,615.8 L707.3,615.2 L707.5,615.1 L707.6,614.8 L708,614 L708.3,613.4 L708.7,612.9 L708.9,612.3 L709,611.9 L709.3,611.1 L709.7,610.6 L710,609.9 L710.3,609.6 L710.4,609.5 L710.7,609.3 L711.1,608.8 L711.4,608.2 L711.6,607.7 L711.7,607.7 L712.1,607 L712.4,606.7 L712.8,606 L713,605.8 L713.1,605.8 L713.5,605.1 L713.8,604.5 L714.1,603.7 L714.4,603.1 L714.5,602.8 L714.8,601.9 L715.2,601.1 L715.5,600.1 L715.7,599.5 L715.9,599.5 L716.2,598.9 L716.5,598.1 L716.9,597.3 L717.1,597 L717.2,596.7 L717.6,596.1 L717.9,595 L718.3,594.2 L718.5,593.8 L718.6,593.4 L718.9,592.1 L719.3,591.4 L719.6,590.8 L719.9,590.3 L720,589.8 L720.3,589 L720.7,588.1 L721,587.5 L721.2,587 L721.3,586.5 L721.7,585.5 L722,584.8 L722.4,583.8 L722.6,583.3 L722.7,583.1 L723.1,582.1 L723.4,581.2 L723.7,580.4 L724,579.8 L724.1,579.6 L724.4,578.9 L724.8,577.9 L725.1,577.1 L725.3,576.6 L725.5,576.4 L725.8,575.5 L726.1,574.5 L726.5,573.6 L726.7,572.9 L726.8,572.5 L727.2,571.4 L727.5,570.4 L727.9,569.5 L728.1,568.9 L728.2,568.2 L728.5,567.3 L728.9,566.3 L729.2,565.2 L729.5,564.6 L729.6,564.2 L729.9,563.1 L730.3,562.3 L730.6,561.5 L730.8,560.8 L730.9,560.6 L731.3,559.7 L731.6,558.7 L732,557.7 L732.2,556.8 L732.3,556.5 L732.7,555.5 L733,554.6 L733.3,553.5 L733.6,552.9 L733.7,552.6 L734,551.7 L734.4,550.6 L734.7,549.7 L734.9,549.1 L735.1,548.7 L735.4,547.7 L735.7,546.7 L736.1,545.9 L736.3,545 L736.4,544.8 L736.8,543.7 L737.1,542.7 L737.5,541.8 L737.7,541 L737.8,540.5 L738.1,539.4 L738.5,538.3 L738.8,537.1 L739.1,536.3 L739.2,535.9 L739.5,534.9 L739.9,533.8 L740.2,532.7 L740.4,531.8 L740.5,531.4 L740.9,530.4 L741.2,529.1 L741.6,527.9 L741.8,527.1 L741.9,526.8 L742.3,525.7 L742.6,524.5 L742.9,523.1 L743.2,522.3 L743.3,522 L743.6,520.8 L744,519.7 L744.3,518.5 L744.5,517.7 L744.7,517.5 L745,516.4 L745.3,515.3 L745.7,514.2 L745.9,513.5 L746,513.1 L746.4,512.2 L746.7,511.1 L747.1,509.9 L747.3,509.2 L747.4,508.9 L747.7,507.7 L748.1,506.7 L748.4,505.5 L748.7,504.8 L748.8,504.5 L749.1,503.3 L749.5,502.1 L749.8,500.8 L750,499.9 L750.1,499.5 L750.5,498.1 L750.8,496.6 L751.2,495.2 L751.4,494.2 L751.5,493.7 L751.9,492.1 L752.2,490.5 L752.5,488.9 L752.8,487.8 L752.9,487.2 L753.2,485.4 L753.6,483.7 L753.9,482 L754.1,480.8 L754.3,480.3 L754.6,478.5 L754.9,476.7 L755.3,474.8 L755.5,473.5 L755.6,472.9 L756,470.8 L756.3,468.8 L756.7,466.7 L756.9,465.3 L757,464.6 L757.3,462.5 L757.7,460.3 L758,458 L758.3,456.4 L758.4,455.5 L758.7,453 L759.1,453 L759.4,453 L759.6,453 L759.7,453 L760.1,452.7 L760.4,452.1 L760.8,451.2 L761,450.4 L761.1,449.9 L761.5,448.5 L761.8,446.9 L762.1,445.2 L762.4,444.1 L762.5,443.5 L762.8,441.8 L763.2,440.2 L763.5,438.6 L763.7,437.4 L763.9,436.7 L764.2,434.8 L764.5,432.6 L764.9,430.5 L765.1,429.1 L765.2,428.4 L765.6,426.2 L765.9,424.2 L766.3,422.3 L766.5,421.1 L766.6,420.5 L766.9,418.9 L767.3,417.4 L767.6,416 L767.9,415.1 L768,414.7 L768.3,413.4 L768.7,412.1 L769,410.9 L769.2,410.1 L769.3,409.7 L769.7,408.5 L770,407.4 L770.4,406.3 L770.6,405.5 L770.7,405.1 L771.1,403.9 L771.4,402.7 L771.7,401.5 L772,400.6 L772.1,400.2 L772.4,398.8 L772.8,397.3 L773.1,395.8 L773.3,394.7 L773.5,394.1 L773.8,392.5 L774.1,390.8 L774.5,389.2 L774.7,388.1 L774.8,387.6 L775.2,386.1 L775.5,384.5 L775.9,383.1 L776.1,382.3 L776.2,381.9 L776.5,380.6 L776.9,379.5 L777.2,378.4 L777.5,377.7 L777.6,377.3 L777.9,376.2 L778.3,375.3 L778.6,374.3 L778.8,373.9 L778.9,373.5 L779.3,372.7 L779.6,371.9 L780,371.2 L780.2,370.5 L780.3,370.3 L780.7,369.4 L781,368.7 L781.3,368 L781.6,367.6 L781.7,367.3 L782,366.7 L782.4,365.9 L782.7,365.2 L782.9,364.8 L783.1,364.3 L783.4,363.4 L783.7,362.4 L784.1,361.5 L784.3,360.8 L784.4,360.8 L784.8,359.8 L785.1,359.1 L785.5,358.3 L785.7,357.7 L785.8,357.4 L786.1,356.5 L786.5,355.2 L786.8,354.1 L787.1,353.2 L787.2,352.6 L787.5,351.5 L787.9,350.4 L788.2,349.2 L788.4,348.3 L788.5,347.9 L788.9,346.8 L789.2,345.8 L789.6,344.8 L789.8,344.1 L789.9,343.7 L790.3,342.6 L790.6,341.5 L790.9,340.6 L791.2,339.8 L791.3,339.5 L791.6,338.4 L792,337.4 L792.3,336.7 L792.5,336.1 L792.7,335.6 L793,334.8 L793.3,333.9 L793.7,333.3 L793.9,332.6 L794,332.2 L794.4,331.4 L794.7,330.7 L795.1,329.9 L795.3,329 L795.4,328.6 L795.7,327.8 L796.1,327 L796.4,326 L796.7,325.2 L796.8,324.9 L797.1,324.5 L797.5,323.6 L797.8,322.9 L798,322.4 L798.1,322.3 L798.5,321.7 L798.8,321 L799.2,320.2 L799.4,319.5 L799.5,319.3 L799.9,318.6 L800.2,317.9 L800.5,317.1 L800.8,316.8 L800.9,316.4 L801.2,315.9 L801.6,315.3 L801.9,314.8 L802.1,314 L802.3,314.2 L802.6,313.2 L802.9,312.5 L803.3,311.7 L803.5,311.6 L803.6,311.3 L804,310.8 L804.3,309.8 L804.7,309.4 L804.9,308.9 L805,308.7 L805.3,307.7 L805.7,307.3 L806,306.8 L806.3,306.7 L806.4,306.2 L806.7,305.6 L807.1,305.2 L807.4,304.7 L807.6,303.7 L807.7,303.6 L808.1,302.9 L808.4,302.3 L808.8,301.8 L809,301.3 L809.1,300.9 L809.5,300.4 L809.8,299.6 L810.1,298.8 L810.4,298.3 L810.5,298 L810.8,297.1 L811.2,296.6 L811.5,296 L811.7,295.5 L811.9,295.5 L812.2,295.4 L812.5,295 L812.9,294.4 L813.1,294.2 L813.2,294.1 L813.6,293.6 L813.9,292.8 L814.3,291.8 L814.5,291.4 L814.6,291.5 L814.9,290.6 L815.3,289.9 L815.6,289.2 L815.9,289 L816,289.1 L816.3,288.1 L816.7,287.3 L817,286.7 L817.2,286.3 L817.3,286.2 L817.7,285.6 L818,284.4 L818.6,283.3 L820,281 L821.4,278.6 L822.7,276.1 L824.1,273.1 L825.5,270.1 L826.8,267.7 L828.2,265.1 L829.6,262.1 L831,259.8 L832.3,258 L833.7,256.2 L835.1,254.9 L836.4,253.5 L837.8,251.9 L839.2,250.6 L840.6,249 L841.9,247.2 L843.3,245.9 L844.7,243.5 L846,241.1 L847.4,239.8 L848.8,237.9 L850.2,236.1 L851.5,234 L852.9,232.1 L854.3,229.9 L855.6,228.3 L857,225.5 L858.4,223.4 L859.8,221.6 L861.1,219 L862.5,216.7 L863.9,215.3 L865.2,213.2 L866.6,211.9 L868,209.7 L869.4,207.3 L870.7,206.6 L872.1,205.2 L873.5,203.7 L874.8,201.9 L876.2,201.3 L877.6,200.8 L879,200 L880.3,198 L881.7,196.2 L883.1,195.1 L884.4,193.9 L885.8,192.1 L887.2,190.2 L888.6,188.6 L889.9,187 L891.3,185.2 L892.7,183.1 L894,182.1 L895.4,179.8 L896.8,178.2 L898.2,176.8 L899.5,176.1 L900.9,175.9 L902.3,175 L903.6,173.2 L905,172.2 L906.4,171.9 L907.8,170.3 L909.1,169 L910.5,166.9 L911.9,166 L913.2,165.4 L914.6,163.8 L916,161.7 L917.4,161.2 L918.7,160.5 L920.1,160 L921.5,159 L922.8,157.5 L924.2,156.6 L925.6,156.1 L927,153.8 L928.3,152.1 L929.7,149.4 L931.1,147.6 L932.5,146.3 L933.8,144.7 L935.2,143.5 L936.6,142.8 L937.9,141.6 L939.3,141.6 L940.7,140.5 L942.1,140.8 L943.4,140.4 L944.8,139.4 L946.2,138.2 L947.5,137.4 L948.9,136.5 L950.3,135.9 L951.7,133.9 L953,133.3 L954.4,133.2 L955.8,132.9 L957.1,132.1 L958.5,131.2 L959.9,132 L961.3,132.5 L962.6,132.1 L964,131.1 L965.4,130.3 L966.7,129.9 L968.1,129.9 L969.5,128.2 L970.9,126.5 L972.2,125.4 L973.6,124.8 L975,125 L976.3,123.4 L977.7,122.7 L979.1,122.7 L980.5,122.1 L981.8,122 L983.2,120.2 L984.6,119.8 L985.9,119.8 L987.3,118.5 L988.7,117.1 L990.1,118.3 L991.4,117.4 L992.8,117.1 L994.2,116.6 L995.5,116.9 L996.9,118.2 L998.3,117.2 L999.7,114.6 L1001,114.4 L1002.4,114.8 L1003.8,114.3 L1005.1,114.3 L1006.5,112.1 L1007.9,111.9 L1009.3,112.3 L1010.6,112.5 L1012,112.2 L1013.4,111.4 L1014.7,109.9 L1016.1,110.9 L1017.5,111.5 L1018.9,112.8 L1020.2,111.9 L1021.6,112.3 L1023,111.6 L1024.3,111.6 L1025.7,110.5 L1027.1,109.5 L1028.5,107.4 L1029.8,107 L1031.2,105.9 L1032.6,106.2 L1033.9,106.7 L1035.3,106.9 L1036.7,107 L1038.1,108.2 L1039.4,108.5 L1040.8,108.5 L1042.2,108.6 L1043.5,108.1 L1044.9,108.4 L1046.3,107.8 L1047.7,107.5 L1049,108 L1050.4,108.4 L1051.8,108 L1053.2,106.9 L1054.5,106.2 L1055.9,106.5 L1057.3,106.2 L1058.6,105 L1060,104 L1061.4,104.9 L1062.8,105.2 L1064.1,105.8 L1065.5,106 L1066.9,104.5 L1068.2,104.5 L1069.6,104.1 L1071,102.5 L1072.4,101.6 L1073.7,99.9 L1075.1,99.4 L1076.5,99.7 L1077.8,99.5 L1079.2,99 L1080.6,99.1 L1082,99.8 L1083.3,99.6 L1084.7,98.3 L1086.1,98.6 L1087.4,98.4 L1088.8,98.4 L1090.2,98.4 L1091.6,98.8 L1092.9,100.6 L1094.3,101 L1095.7,101 L1097,102 L1098.4,102.5 L1099.8,103.3 L1101.2,101.5 L1102.5,101.3 L1103.9,101.7 L1105.3,100.3 L1106.6,99.5 L1108,100.1 L1109.4,99.9 L1110.8,102 L1112.1,101.1 L1113.5,100.7 L1114.9,101.5 L1116.2,101 L1117.6,100.6 L1119,99.6 L1120.4,99 L1121.7,99.5 L1123.1,100 L1124.5,101.5 L1125.8,102.7 L1127.2,101.8 L1128.6,101.8 L1130,101 L1131.3,99.8 L1132.7,99.9 L1134.1,98.1 L1135.4,96.3 L1136.8,96.7 L1138.2,97.5 L1139.6,98 L1140.9,98.4 L1142.3,98.6 L1143.7,99.4 L1145,100.2 L1146.4,100.8 L1147.8,99.8 L1149.2,100.1 L1150.5,99.9 L1151.9,100 L1153.3,100.1 L1154.6,99.3 L1156,99.5 L1157.4,99.4 L1158.8,99.9 L1160.1,100.3 L1161.5,99.2 L1162.9,98.1 L1164.3,98.5 L1165.6,97.7 L1167,98 L1168.4,97.6 L1169.7,96.7 L1171.1,97.1 L1172.5,97.7 L1173.9,96.8 L1175.2,97 L1176.6,96.7 L1178,94.9 L1179.3,95.4 L1180.7,95.2 L1182.1,95.7 L1183.5,96.4 L1184.8,97.1 L1186.2,98.5 L1187.6,100.5 L1188.9,101.6 L1190.3,101.9 L1191.7,101 L1193.1,101.6 L1194.4,101.3 L1195.8,100.6 L1197.2,99.9 L1198.5,98.3 L1199.9,98.5 L1201.3,99 L1202.7,97.9 L1204,97.4 L1205.4,97.7 L1206.8,97.8 L1208.1,99.1 L1209.5,99.1 L1210.9,98.1 L1212.3,98.6 L1213.6,98.9 L1215,99 L1216.4,99.8 L1217.7,98.3 L1219.1,97.8 L1220.5,99.1 L1221.9,99.9 L1223.2,100.6 L1224.6,99.6 L1226,98.6 L1227.3,99.1 L1228.7,99.5 L1230.1,98.4 L1231.5,98.4 L1232.8,98 L1234.2,98.8 L1235.6,97.8 L1236.9,98 L1238.3,97.9 L1239.7,97.9 L1241.1,97.1 L1242.4,96.5 L1243.8,96.7 L1245.2,98.1 L1246.5,98.6 L1247.9,98 L1249.3,98.8 L1250.7,98.8 L1252,99.3 L1253.4,98.7 L1254.8,99.1 L1256.1,98 L1257.5,98.9 L1258.9,98.8 L1260.3,99.5 L1261.6,99.2 L1263,99.7 L1264.4,100 L1265.7,100.6 L1267.1,100 L1268.5,100 L1269.9,99.5 L1271.2,98.5 L1272.6,98 L1274,97 L1275.3,96.9" stroke="#0b8985" stroke-width="6.5" fill="none" stroke-linejoin="round"/>
<path d="M246.6,807.1 L248,807.4 L249.4,807.3 L250.8,806.7 L252.1,806.1 L253.5,804.9 L254.9,805.5 L256.3,806.1 L257.6,807 L259,808.3 L260.4,807.4 L261.7,808.3 L263.1,807.8 L264.5,807.7 L265.9,807 L267.2,805.5 L268.6,805.9 L270,806.3 L271.3,805.4 L272.7,805.8 L274.1,805.6 L275.5,807.1 L276.8,806.9 L278.2,805.5 L279.6,806.1 L280.9,805.6 L282.3,805.7 L283.7,806.5 L285.1,805.7 L286.4,806.1 L287.8,806.4 L289.2,805.5 L290.5,806.1 L291.9,806.4 L293.3,806.4 L294.7,807 L296,806.9 L297.4,806.9 L298.8,807.8 L300.1,807.1 L301.5,806.8 L302.9,805.9 L304.3,804.8 L305.6,804.5 L307,805.1 L308.4,803.8 L309.7,804.3 L311.1,804.2 L312.5,804.4 L313.9,804.3 L315.2,805.4 L316.6,805.1 L318,805.8 L319.3,806.1 L320.7,806.1 L322.1,805.5 L323.5,806.9 L324.8,806.4 L326.2,806.5 L327.6,807.2 L328.9,807 L330.3,807.7 L331.7,808.3 L333.1,807.1 L334.4,807.4 L335.8,806.7 L337.2,806.5 L338.5,806.4 L339.9,806.3 L341.3,807 L342.7,807.8 L344,807.1 L345.4,807.9 L346.8,807.3 L348.1,807.1 L349.5,806.3 L350.9,805.6 L352.3,805.5 L353.6,804.9 L355,804.9 L356.4,805.4 L357.7,806.1 L359.1,806.1 L360.5,806.6 L361.9,805.7 L363.2,807 L364.6,807.9 L366,806.5 L367.4,806.6 L368.7,807.3 L370.1,806.9 L371.5,807.1 L372.8,806.6 L374.2,804.9 L375.6,806.1 L377,806.3 L378.3,805.7 L379.7,805.1 L381.1,805.3 L382.4,805.4 L383.8,806.2 L385.2,806.1 L386.6,805.8 L387.9,805.5 L389.3,804.5 L390.7,805.1 L392,805.9 L393.4,805.1 L394.8,804.7 L396.2,804.9 L397.5,806.1 L398.9,807.9 L400.3,808.2 L401.6,807.4 L403,808.4 L404.4,808.9 L405.8,808.5 L407.1,808.6 L408.5,808.5 L409.9,808.3 L411.2,808.1 L412.6,808.4 L414,807.6 L415.4,808 L416.7,805.9 L418.1,805 L419.5,804.8 L420.8,804.7 L422.2,804.2 L423.6,803.9 L425,804.4 L426.3,806.1 L427.7,806.6 L429.1,806.4 L430.4,806.8 L431.8,807.4 L433.2,808.3 L434.6,806.6 L435.9,806.1 L437.3,806.7 L438.7,806.8 L440,806.3 L441.4,805.8 L442.8,805.6 L444.2,806.6 L445.5,805.8 L446.9,804.5 L448.3,804.4 L449.6,804.3 L451,804 L452.4,804.8 L453.8,804.2 L455.1,805 L456.5,805 L457.9,804.1 L459.2,804 L460.6,802.9 L462,800.5 L463.4,801.3 L464.7,800.9 L466.1,801.6 L467.5,801.9 L468.8,801.8 L470.2,802.8 L471.6,804.2 L473,802.6 L474.3,803.2 L475.7,801.8 L477.1,801.7 L478.5,802.8 L479.8,802.3 L481.2,802.6 L482.6,802.8 L483.9,802.3 L485.3,802.6 L486.7,802.5 L488.1,800.4 L489.4,799.6 L490.8,798.7 L492.2,797.8 L493.5,796.8 L494.9,797 L496.3,796.3 L497.7,796.1 L499,795.9 L500.4,795.7 L501.8,796.2 L503.1,796.6 L504.5,796 L505.9,797.2 L507.3,797.3 L508.6,796.6 L510,796.4 L511.4,796.3 L512.7,796 L514.1,794.9 L515.5,794.1 L516.9,793.9 L518.2,794.4 L519.6,793 L521,792.8 L522.3,792.3 L523.7,793.4 L525.1,792.2 L526.5,791.2 L527.8,790.8 L529.2,790.8 L530.6,790.4 L531.9,789.4 L533.3,788.2 L534.7,787.8 L536.1,788 L537.4,787.1 L538.8,786.6 L540.2,785.8 L541.5,785.6 L542.9,785.1 L544.3,784.5 L545.7,782.7 L547,782.4 L548.4,782.9 L549.8,782.5 L551.1,782.4 L552.5,781.9 L553.9,781.1 L555.3,780.9 L556.6,780.6 L558,779.7 L559.4,779.1 L560.7,778.4 L562.1,777.6 L563.5,777.2 L564.9,777.4 L566.2,776.2 L567.6,775.2 L569,773.6 L570.3,772.4 L571.7,771.8 L573.1,770.9 L574.5,768.8 L575.8,768.2 L577.2,766.2 L578.6,767 L579.9,767.1 L581.3,766.5 L582.7,765.6 L584.1,765.5 L585.4,764.5 L586.8,764.9 L588.2,762.6 L589.5,761.3 L590.9,760.4 L592.3,760 L593.7,759.1 L595,757 L596.4,756 L597.8,755.1 L599.2,754.2 L600.5,753.6 L601.9,753 L603.3,752.6 L604.6,753.1 L606,752.7 L607.4,751.9 L608.8,750.6 L610.1,749.1 L611.5,747.1 L612.9,745.6 L614.2,743.5 L615.6,741.6 L617,740 L618.4,739 L619.7,737.2 L621.1,736.6 L622.5,735.9 L623.8,734.3 L625.2,733.2 L626.6,731.7 L628,730.3 L629.3,729 L630.7,726.8 L632.1,725.1 L633.4,723.9 L634.8,722.2 L636.2,721.1 L637.6,719.2 L638.9,717.8 L640.3,716.1 L641.7,714.7 L643,713.1 L644.4,711.9 L645.8,710.5 L647.2,709.4 L648.5,707.6 L649.9,707.6 L651.3,705.9 L652.6,705 L654,703.1 L655.4,702 L656.8,700.1 L658.1,699.1 L659.5,696.2 L660.9,694.8 L662.2,692.9 L663.6,691.6 L665,689.1 L666.4,687 L667.7,684.7 L669.1,682.5 L670.5,680.1 L671.8,678.4 L673.2,675.8 L674.6,674.2 L676,672.4 L677.3,670.2 L678.7,668.7 L680.1,667.2 L681.4,664.8 L682.8,663.2 L684.2,661 L685.6,658.9 L686.9,656.5 L688.3,653.5 L689.7,650.5 L691,647.7 L692.4,645 L693.8,642.2 L695.2,639.8 L696.5,638.2 L697.9,636.7 L699.3,635.3 L700.6,633.8 L702,632.4 L703.4,630.1 L703.9,629.5 L704.2,628.8 L704.5,628.3 L704.8,628.4 L704.9,628.5 L705.2,627.7 L705.6,627.4 L705.9,626.8 L706.1,626.3 L706.3,626.1 L706.6,625.2 L706.9,624.3 L707.3,623.7 L707.5,623.7 L707.6,623.6 L708,623.1 L708.3,622.1 L708.7,621.7 L708.9,621.5 L709,621.2 L709.3,620.3 L709.7,619.6 L710,618.9 L710.3,618.9 L710.4,618.4 L710.7,617.5 L711.1,616.9 L711.4,616.2 L711.6,615.7 L711.7,615.7 L712.1,614.8 L712.4,614.5 L712.8,614 L713,613.6 L713.1,613.7 L713.5,613 L713.8,612.3 L714.1,611.6 L714.4,611 L714.5,610.8 L714.8,610.3 L715.2,609.8 L715.5,609.1 L715.7,608.8 L715.9,608.9 L716.2,608.3 L716.5,607.8 L716.9,607.1 L717.1,606.5 L717.2,606.4 L717.6,605.7 L717.9,604.8 L718.3,604.2 L718.5,603.7 L718.6,603.3 L718.9,602.6 L719.3,602 L719.6,601.4 L719.9,601.1 L720,600.7 L720.3,600.1 L720.7,599.5 L721,598.9 L721.2,598.5 L721.3,598.1 L721.7,597.3 L722,596.5 L722.4,595.5 L722.6,595.2 L722.7,595 L723.1,593.9 L723.4,593.2 L723.7,592.3 L724,592 L724.1,591.8 L724.4,590.7 L724.8,589.8 L725.1,589.2 L725.3,588.6 L725.5,588.3 L725.8,587.3 L726.1,586.5 L726.5,585.5 L726.7,584.9 L726.8,584.6 L727.2,583.7 L727.5,582.9 L727.9,581.9 L728.1,581.2 L728.2,580.9 L728.5,580.1 L728.9,579.2 L729.2,578.3 L729.5,577.7 L729.6,577.3 L729.9,576.5 L730.3,575.5 L730.6,574.5 L730.8,573.9 L730.9,573.6 L731.3,572.7 L731.6,572 L732,571 L732.2,570.4 L732.3,570.1 L732.7,569.1 L733,568.2 L733.3,567.2 L733.6,566.3 L733.7,566 L734,565.1 L734.4,564.1 L734.7,563 L734.9,562 L735.1,561.6 L735.4,560.8 L735.7,559.8 L736.1,558.6 L736.3,558 L736.4,557.6 L736.8,556.9 L737.1,556 L737.5,554.9 L737.7,554.3 L737.8,554.1 L738.1,553.1 L738.5,552.3 L738.8,551.1 L739.1,550.5 L739.2,550.2 L739.5,549.2 L739.9,548.3 L740.2,547.2 L740.4,546.4 L740.5,546.3 L740.9,545.3 L741.2,544.3 L741.6,543.3 L741.8,542.6 L741.9,542.3 L742.3,541.3 L742.6,540.2 L742.9,539.1 L743.2,538.4 L743.3,537.9 L743.6,536.8 L744,535.7 L744.3,534.5 L744.5,533.7 L744.7,533.2 L745,532 L745.3,531 L745.7,529.7 L745.9,528.8 L746,528.4 L746.4,527.3 L746.7,526.1 L747.1,525 L747.3,524.2 L747.4,523.8 L747.7,522.7 L748.1,521.5 L748.4,520.4 L748.7,519.6 L748.8,519.1 L749.1,518 L749.5,516.9 L749.8,515.8 L750,515.2 L750.1,514.8 L750.5,513.7 L750.8,512.7 L751.2,511.8 L751.4,511 L751.5,510.7 L751.9,509.7 L752.2,508.6 L752.5,507.5 L752.8,506.7 L752.9,506.2 L753.2,505.1 L753.6,503.8 L753.9,502.6 L754.1,501.7 L754.3,501.3 L754.6,500 L754.9,498.7 L755.3,497.3 L755.5,496.3 L755.6,495.8 L756,494.3 L756.3,492.8 L756.7,491.1 L756.9,490.1 L757,489.5 L757.3,487.9 L757.7,486.2 L758,484.4 L758.3,483.2 L758.4,482.7 L758.7,480.9 L759.1,479.1 L759.4,477.3 L759.6,476 L759.7,475.4 L760.1,473.5 L760.4,471.5 L760.8,469.5 L761,468.1 L761.1,467.4 L761.5,465.3 L761.8,463.1 L762.1,461 L762.4,459.5 L762.5,458.7 L762.8,456.3 L763.2,453.8 L763.5,453 L763.7,453 L763.9,453 L764.2,453 L764.5,452.9 L764.9,452.3 L765.1,451.8 L765.2,451.5 L765.6,450.3 L765.9,448.9 L766.3,447.4 L766.5,446.4 L766.6,445.8 L766.9,444.1 L767.3,442.3 L767.6,440.7 L767.9,439.7 L768,439.2 L768.3,437.4 L768.7,435.5 L769,433.4 L769.2,432 L769.3,431.3 L769.7,429.1 L770,426.9 L770.4,424.8 L770.6,423.5 L770.7,422.9 L771.1,421.1 L771.4,419.5 L771.7,418 L772,417.1 L772.1,416.7 L772.4,415.3 L772.8,414 L773.1,412.6 L773.3,411.8 L773.5,411.4 L773.8,410.1 L774.1,408.9 L774.5,407.7 L774.7,406.9 L774.8,406.6 L775.2,405.4 L775.5,404.1 L775.9,403 L776.1,402.2 L776.2,401.8 L776.5,400.5 L776.9,399.1 L777.2,397.7 L777.5,396.7 L777.6,396.2 L777.9,394.5 L778.3,393 L778.6,391.4 L778.8,390.3 L778.9,389.8 L779.3,388.2 L779.6,386.7 L780,385.2 L780.2,384.1 L780.3,383.8 L780.7,382.3 L781,380.9 L781.3,379.8 L781.6,379.1 L781.7,378.7 L782,377.8 L782.4,376.7 L782.7,375.9 L782.9,375.4 L783.1,375.3 L783.4,374.4 L783.7,373.4 L784.1,372.5 L784.3,371.8 L784.4,371.5 L784.8,370.6 L785.1,369.5 L785.5,368.7 L785.7,368.3 L785.8,368.1 L786.1,367.2 L786.5,366.5 L786.8,365.7 L787.1,365.3 L787.2,365.1 L787.5,364.3 L787.9,363.5 L788.2,362.9 L788.4,362.4 L788.5,362.1 L788.9,361.2 L789.2,360.2 L789.6,359.4 L789.8,358.8 L789.9,358.4 L790.3,357.1 L790.6,355.9 L790.9,354.7 L791.2,354.1 L791.3,353.7 L791.6,352.5 L792,351.4 L792.3,350.7 L792.5,350.2 L792.7,349.9 L793,348.6 L793.3,347.4 L793.7,346.2 L793.9,345.5 L794,345.1 L794.4,344.1 L794.7,343.2 L795.1,342.2 L795.3,341.6 L795.4,341.6 L795.7,340.5 L796.1,339.1 L796.4,338.1 L796.7,337.5 L796.8,337.5 L797.1,336.5 L797.5,335.7 L797.8,334.9 L798,334.5 L798.1,334.2 L798.5,333.4 L798.8,332.3 L799.2,331.5 L799.4,330.6 L799.5,330.2 L799.9,329.4 L800.2,328.5 L800.5,327.6 L800.8,327 L800.9,326.7 L801.2,326 L801.6,325.4 L801.9,324.2 L802.1,323.6 L802.3,323.3 L802.6,322.8 L802.9,321.6 L803.3,320.6 L803.5,320.3 L803.6,320.5 L804,319.6 L804.3,318.8 L804.7,318 L804.9,317.7 L805,317.6 L805.3,316.7 L805.7,315.9 L806,315.1 L806.3,314.8 L806.4,314.6 L806.7,313.9 L807.1,313.6 L807.4,312.9 L807.6,312.4 L807.7,312.5 L808.1,311.9 L808.4,310.8 L808.8,310.4 L809,309.9 L809.1,310.1 L809.5,309 L809.8,308.1 L810.1,307.3 L810.4,307.2 L810.5,307 L810.8,306.1 L811.2,305.4 L811.5,305.3 L811.7,304.7 L811.9,304.4 L812.2,303.7 L812.5,302.9 L812.9,302.6 L813.1,301.9 L813.2,301.8 L813.6,301.1 L813.9,300.1 L814.3,299.5 L814.5,299.1 L814.6,298.7 L814.9,297.9 L815.3,297.2 L815.6,297.2 L815.9,297.3 L816,297 L816.3,296.1 L816.7,295.9 L817,295.5 L817.2,295.1 L817.3,294.8 L817.7,294.4 L818,293.7 L818.6,293 L820,290.4 L821.4,288 L822.7,285.6 L824.1,282.8 L825.5,280 L826.8,277.4 L828.2,274.6 L829.6,271.4 L831,268.6 L832.3,265.4 L833.7,262.9 L835.1,260.5 L836.4,258.6 L837.8,256.7 L839.2,255.2 L840.6,253.5 L841.9,251.8 L843.3,250.6 L844.7,248.9 L846,247.1 L847.4,245.1 L848.8,243.7 L850.2,241.7 L851.5,240.6 L852.9,238.7 L854.3,237.5 L855.6,235.9 L857,234.3 L858.4,231.4 L859.8,229.8 L861.1,227.8 L862.5,225.4 L863.9,223 L865.2,220.5 L866.6,218.2 L868,217.2 L869.4,215.6 L870.7,213.2 L872.1,211.6 L873.5,209.9 L874.8,208.7 L876.2,207.6 L877.6,206.1 L879,204.6 L880.3,204 L881.7,201.8 L883.1,200.8 L884.4,199.1 L885.8,197.2 L887.2,195.7 L888.6,193.3 L889.9,191.9 L891.3,191.7 L892.7,189.5 L894,188.3 L895.4,187.3 L896.8,185.7 L898.2,184.1 L899.5,182.5 L900.9,180.3 L902.3,179.6 L903.6,177.9 L905,176.9 L906.4,175.6 L907.8,175.3 L909.1,174.6 L910.5,173.5 L911.9,172.5 L913.2,171.5 L914.6,170 L916,168.5 L917.4,167.4 L918.7,166.1 L920.1,164.8 L921.5,163.5 L922.8,162.5 L924.2,160.5 L925.6,159.8 L927,159 L928.3,157 L929.7,154.9 L931.1,153.5 L932.5,151.8 L933.8,152.4 L935.2,151.1 L936.6,149.3 L937.9,148.2 L939.3,148.3 L940.7,146.9 L942.1,145.9 L943.4,143.9 L944.8,142.6 L946.2,142.5 L947.5,141.4 L948.9,140.5 L950.3,139.7 L951.7,138.6 L953,138.8 L954.4,137.3 L955.8,136.6 L957.1,135.6 L958.5,134.8 L959.9,135.5 L961.3,134.2 L962.6,131.7 L964,132.8 L965.4,131.4 L966.7,131.2 L968.1,130.7 L969.5,128.5 L970.9,129.4 L972.2,130.6 L973.6,129.4 L975,129 L976.3,129.7 L977.7,130.4 L979.1,130.2 L980.5,129.9 L981.8,128.3 L983.2,127.5 L984.6,126.6 L985.9,125 L987.3,122.3 L988.7,120.9 L990.1,119.8 L991.4,119.6 L992.8,120.2 L994.2,119.7 L995.5,119.6 L996.9,120.5 L998.3,121.6 L999.7,121.6 L1001,121.2 L1002.4,121.2 L1003.8,121 L1005.1,120.4 L1006.5,118.8 L1007.9,118.2 L1009.3,117.7 L1010.6,118.4 L1012,116.8 L1013.4,117 L1014.7,117.4 L1016.1,118.8 L1017.5,117.6 L1018.9,118.3 L1020.2,116.9 L1021.6,116.8 L1023,115.9 L1024.3,114.9 L1025.7,113.6 L1027.1,112.8 L1028.5,112 L1029.8,111.9 L1031.2,111.3 L1032.6,111.3 L1033.9,112.6 L1035.3,112.9 L1036.7,113.9 L1038.1,114.4 L1039.4,113.8 L1040.8,114.2 L1042.2,113.8 L1043.5,112.4 L1044.9,112.5 L1046.3,112.9 L1047.7,111.5 L1049,111.8 L1050.4,111.8 L1051.8,111.8 L1053.2,111.8 L1054.5,111 L1055.9,110.1 L1057.3,110.4 L1058.6,109.8 L1060,109.9 L1061.4,109.8 L1062.8,109.2 L1064.1,109.1 L1065.5,109.1 L1066.9,108.8 L1068.2,109.3 L1069.6,108.8 L1071,108.2 L1072.4,109.3 L1073.7,109.9 L1075.1,110 L1076.5,110.4 L1077.8,110.3 L1079.2,110.1 L1080.6,110.4 L1082,110.9 L1083.3,110.8 L1084.7,111.1 L1086.1,110.2 L1087.4,110.2 L1088.8,111.4 L1090.2,111.5 L1091.6,110.6 L1092.9,110.7 L1094.3,110.4 L1095.7,111.4 L1097,111.2 L1098.4,110.2 L1099.8,109.6 L1101.2,110.4 L1102.5,109.9 L1103.9,109.6 L1105.3,109.5 L1106.6,109.1 L1108,108.9 L1109.4,108.8 L1110.8,107.4 L1112.1,107.1 L1113.5,107.3 L1114.9,106.5 L1116.2,106.5 L1117.6,106.4 L1119,106.8 L1120.4,106.5 L1121.7,107.2 L1123.1,107.3 L1124.5,107.5 L1125.8,107.2 L1127.2,107.7 L1128.6,107.1 L1130,107.5 L1131.3,107 L1132.7,106.4 L1134.1,105.9 L1135.4,106.1 L1136.8,107 L1138.2,107.6 L1139.6,107.4 L1140.9,107.9 L1142.3,108.4 L1143.7,109.5 L1145,109.2 L1146.4,107.6 L1147.8,109.5 L1149.2,109.6 L1150.5,109 L1151.9,108.9 L1153.3,108.9 L1154.6,108.9 L1156,109.7 L1157.4,107.9 L1158.8,108.3 L1160.1,108.6 L1161.5,108.2 L1162.9,107.2 L1164.3,106.6 L1165.6,107 L1167,106.2 L1168.4,105.7 L1169.7,106.5 L1171.1,106.6 L1172.5,107.4 L1173.9,108.6 L1175.2,108.5 L1176.6,109.3 L1178,109.3 L1179.3,109.2 L1180.7,109.3 L1182.1,108.2 L1183.5,108.2 L1184.8,108.1 L1186.2,107.6 L1187.6,108.3 L1188.9,108 L1190.3,109.3 L1191.7,109.7 L1193.1,110.2 L1194.4,109.1 L1195.8,109.5 L1197.2,109.1 L1198.5,108.9 L1199.9,107.7 L1201.3,108 L1202.7,107.4 L1204,108 L1205.4,108.4 L1206.8,108.6 L1208.1,108.8 L1209.5,109.3 L1210.9,110 L1212.3,109.4 L1213.6,109.3 L1215,109.1 L1216.4,108.4 L1217.7,108.7 L1219.1,108.5 L1220.5,107.8 L1221.9,108.9 L1223.2,109.8 L1224.6,109.7 L1226,109.9 L1227.3,109.8 L1228.7,109.7 L1230.1,110.5 L1231.5,110.6 L1232.8,110.3 L1234.2,110.2 L1235.6,109.9 L1236.9,109.4 L1238.3,107.7 L1239.7,107.2 L1241.1,107.5 L1242.4,107.2 L1243.8,107.3 L1245.2,108.4 L1246.5,108.4 L1247.9,110.3 L1249.3,111.3 L1250.7,111.1 L1252,111.6 L1253.4,112 L1254.8,111.5 L1256.1,111.7 L1257.5,111.2 L1258.9,110.6 L1260.3,109.4 L1261.6,108.8 L1263,108.8 L1264.4,108.3 L1265.7,108.1 L1267.1,107.7 L1268.5,107.3 L1269.9,108.6 L1271.2,109.5 L1272.6,109.5 L1274,109.5 L1275.3,109.7" stroke="#0b8985" stroke-width="6.5" fill="none" stroke-linejoin="round"/>
<rect x="246.2" y="37.5" width="1027.3" height="832.5" fill="none" stroke="#000" stroke-width="4"/>
<text x="200" y="60.5" font-size="58" text-anchor="end">2x10</text><text x="200.5" y="28.5" font-size="37" letter-spacing="-1.5">-5</text>
<text x="200" y="164.5" font-size="58" text-anchor="end">2x10</text><text x="200.5" y="132.5" font-size="37" letter-spacing="-1.5">-5</text>
<text x="200" y="268.5" font-size="58" text-anchor="end">1x10</text><text x="200.5" y="236.5" font-size="37" letter-spacing="-1.5">-5</text>
<text x="200" y="372.5" font-size="58" text-anchor="end">5x10</text><text x="200.5" y="340.5" font-size="37" letter-spacing="-1.5">-6</text>
<text x="230" y="464" font-size="58" text-anchor="end">0</text>
<text x="200" y="580.5" font-size="58" text-anchor="end">-5x10</text><text x="200.5" y="548.5" font-size="37" letter-spacing="-1.5">-6</text>
<text x="200" y="684.5" font-size="58" text-anchor="end">-1x10</text><text x="200.5" y="652.5" font-size="37" letter-spacing="-1.5">-5</text>
<text x="200" y="788.5" font-size="58" text-anchor="end">-2x10</text><text x="200.5" y="756.5" font-size="37" letter-spacing="-1.5">-5</text>
<text x="200" y="892.5" font-size="58" text-anchor="end">-2x10</text><text x="200.5" y="860.5" font-size="37" letter-spacing="-1.5">-5</text>
<text transform="translate(303.8,928.3) scale(1.12,1)" font-size="46.6" text-anchor="middle">-4000</text>
<text transform="translate(531.4,928.3) scale(1.12,1)" font-size="46.6" text-anchor="middle">-2000</text>
<text transform="translate(761.3,928.3) scale(1.12,1)" font-size="46.6" text-anchor="middle">0</text>
<text transform="translate(988.2,928.3) scale(1.12,1)" font-size="46.6" text-anchor="middle">2000</text>
<text transform="translate(1216,928.3) scale(1.12,1)" font-size="46.6" text-anchor="middle">4000</text>
<text x="631.5" y="1017" font-size="58">Field (Oe)</text>
<text transform="translate(44.8,640) rotate(-90)" x="0" y="0" font-size="58">Moment (emu)</text>
<text x="266" y="89.7" font-size="47" letter-spacing="0"><tspan>2×</tspan><tspan font-size="42" dx="2">(</tspan><tspan dx="-0.4">ZrO</tspan><tspan font-size="41" dy="12">2</tspan><tspan dy="-12">+Co</tspan><tspan font-size="41" dy="12">3</tspan><tspan dy="-12">O</tspan><tspan font-size="41" dy="12">4</tspan><tspan font-size="42" dy="-12" dx="3.5">)</tspan><tspan dx="0.5">+ZrO</tspan><tspan font-size="41" dy="12">2</tspan></text>
<text x="259" y="394.7" font-size="47" letter-spacing="0.4"><tspan>2×</tspan><tspan font-size="42" dx="2">(</tspan><tspan dx="-0.4">Co</tspan><tspan font-size="41" dy="12">3</tspan><tspan dy="-12">O</tspan><tspan font-size="41" dy="12">4</tspan><tspan dy="-12">+ZrO</tspan><tspan font-size="41" dy="12">2</tspan><tspan font-size="42" dy="-12" dx="2">)</tspan><tspan dx="-0.4">+Co</tspan><tspan font-size="41" dy="12">3</tspan><tspan dy="-12">O</tspan><tspan font-size="41" dy="12">4</tspan></text>
<text x="877" y="291" font-size="47" letter-spacing="0"><tspan>ZrO</tspan><tspan font-size="41" dy="16">2</tspan></text>
<text x="361.5" y="638" font-size="47" letter-spacing="0"><tspan>Co</tspan><tspan font-size="41" dy="16">3</tspan><tspan dy="-16">O</tspan><tspan font-size="41" dy="16">4</tspan></text>
<line x1="660" y1="105" x2="850.9" y2="204.2" stroke="#000" stroke-width="3.2"/><polygon points="866,212 848.4,209.0 853.4,199.3" fill="#000"/>
<line x1="917" y1="307.5" x2="956.1" y2="360.0" stroke="#111" stroke-width="1.8"/><polygon points="968,376 952.0,362.9 960.1,357.0" fill="#111"/>
<line x1="500" y1="404" x2="604.6" y2="478.9" stroke="#111" stroke-width="1.8"/><polygon points="620,490 601.4,483.4 607.8,474.5" fill="#111"/>
<line x1="402" y1="598" x2="336.8" y2="530.7" stroke="#222" stroke-width="1.7"/><polygon points="325,518.5 340.4,527.2 333.2,534.2" fill="#222"/>
<rect x="799.2" y="491.2" width="427.4" height="329.8" fill="#fff" stroke="#333" stroke-width="2.8"/>
<path d="M908,821 V817 M1012,821 V817 M1120,821 V817 M799,657 H803" stroke="#222" stroke-width="2.5"/>
<path d="M1122,496 L1107,509.4 L1090.4,517.6 L1062.7,529.6 L1036.9,553.6 L1020,571 L1003,576 L992.7,590.5 L985.3,606.1 L963.2,633.8 L941,661 L917.9,691.1 L874.5,731.4 L839.6,774 L806,803.5" stroke="#f00" stroke-width="6" fill="none" stroke-dasharray="0.1 20.5 15.5 20.5" stroke-dashoffset="54" stroke-linecap="round" stroke-linejoin="round"/>
<path d="M1226,519 L1204.6,542.1 L1190.4,552.3 L1161.8,574 L1148.9,587 L1125.1,616.2 L1113.4,628.2 L1097.7,643.9 L1085.8,650.4 L1079.5,660 L1062.7,672.5 L1055.7,690.6 L1042,717.8 L1015,738 L994.5,755 L970.8,785.7 L957,815" stroke="#f00" stroke-width="6" fill="none" stroke-dasharray="15.5 20.5 0.1 20.5" stroke-dashoffset="7.5" stroke-linecap="round" stroke-linejoin="round"/>
<path d="M952,821 L989.5,660 L1032,491.2" stroke="#0b8985" stroke-width="4.6" fill="none"/>
<path d="M992.8,821 L1038.2,660 L1085,491.2" stroke="#0b8985" stroke-width="4.6" fill="none"/>
<line x1="968" y1="660" x2="1055" y2="660" stroke="#222" stroke-width="2.8"/>
<polygon points="940,660 970,645.5 970,674" fill="#000"/>
<polygon points="1083,660 1053,645.5 1053,674" fill="#000"/>
<text x="1068" y="708.8" font-size="47">120 Oe</text>
<text x="799.5" y="855.2" font-size="38" text-anchor="middle" fill="#222" style="fill:#222">-200</text>
<text x="904.6" y="855.2" font-size="38" text-anchor="middle" fill="#222" style="fill:#222">-100</text>
<text x="1012.6" y="855.2" font-size="38" text-anchor="middle" fill="#222" style="fill:#222">0</text>
<text x="1120" y="855.2" font-size="38" text-anchor="middle" fill="#222" style="fill:#222">100</text>
<text x="1225.2" y="855.2" font-size="38" text-anchor="middle" fill="#222" style="fill:#222">200</text>
<text x="794" y="666.5" font-size="40" text-anchor="end" style="fill:#333">0</text>
<g fill="#fff" id="foot"><rect x="138.52" y="55.67" width="11.39" height="5.73"/><rect x="155.33" y="55.67" width="11.08" height="5.73"/><rect x="138.52" y="159.67" width="11.39" height="5.73"/><rect x="155.33" y="159.67" width="11.08" height="5.73"/><rect x="77.27" y="263.67" width="11.39" height="5.73"/><rect x="94.08" y="263.67" width="11.08" height="5.73"/><rect x="138.52" y="263.67" width="11.39" height="5.73"/><rect x="155.33" y="263.67" width="11.08" height="5.73"/><rect x="138.52" y="367.67" width="11.39" height="5.73"/><rect x="155.33" y="367.67" width="11.08" height="5.73"/><rect x="138.52" y="575.67" width="11.39" height="5.73"/><rect x="155.33" y="575.67" width="11.08" height="5.73"/><rect x="77.27" y="679.67" width="11.39" height="5.73"/><rect x="94.08" y="679.67" width="11.08" height="5.73"/><rect x="138.52" y="679.67" width="11.39" height="5.73"/><rect x="155.33" y="679.67" width="11.08" height="5.73"/><rect x="138.52" y="783.67" width="11.39" height="5.73"/><rect x="155.33" y="783.67" width="11.08" height="5.73"/><rect x="138.52" y="887.67" width="11.39" height="5.73"/><rect x="155.33" y="887.67" width="11.08" height="5.73"/><rect x="1070.24" y="704.79" width="9.43" height="4.91"/><rect x="1084.12" y="704.79" width="9.21" height="4.91"/><rect x="880.79" y="851.86" width="7.82" height="4.24"/><rect x="892.27" y="851.86" width="7.68" height="4.24"/><rect x="1089.88" y="851.86" width="7.82" height="4.24"/><rect x="1101.36" y="851.86" width="7.68" height="4.24"/></g>
<polygon points="794,475.1 769.5,501.6 833.1,560.9 817.4,575.4 872.2,572.9 871,518.6 857.7,533.8" fill="#fff" stroke="#000" stroke-width="4.2" stroke-linejoin="miter"/>
</g></svg></div></body></html>
